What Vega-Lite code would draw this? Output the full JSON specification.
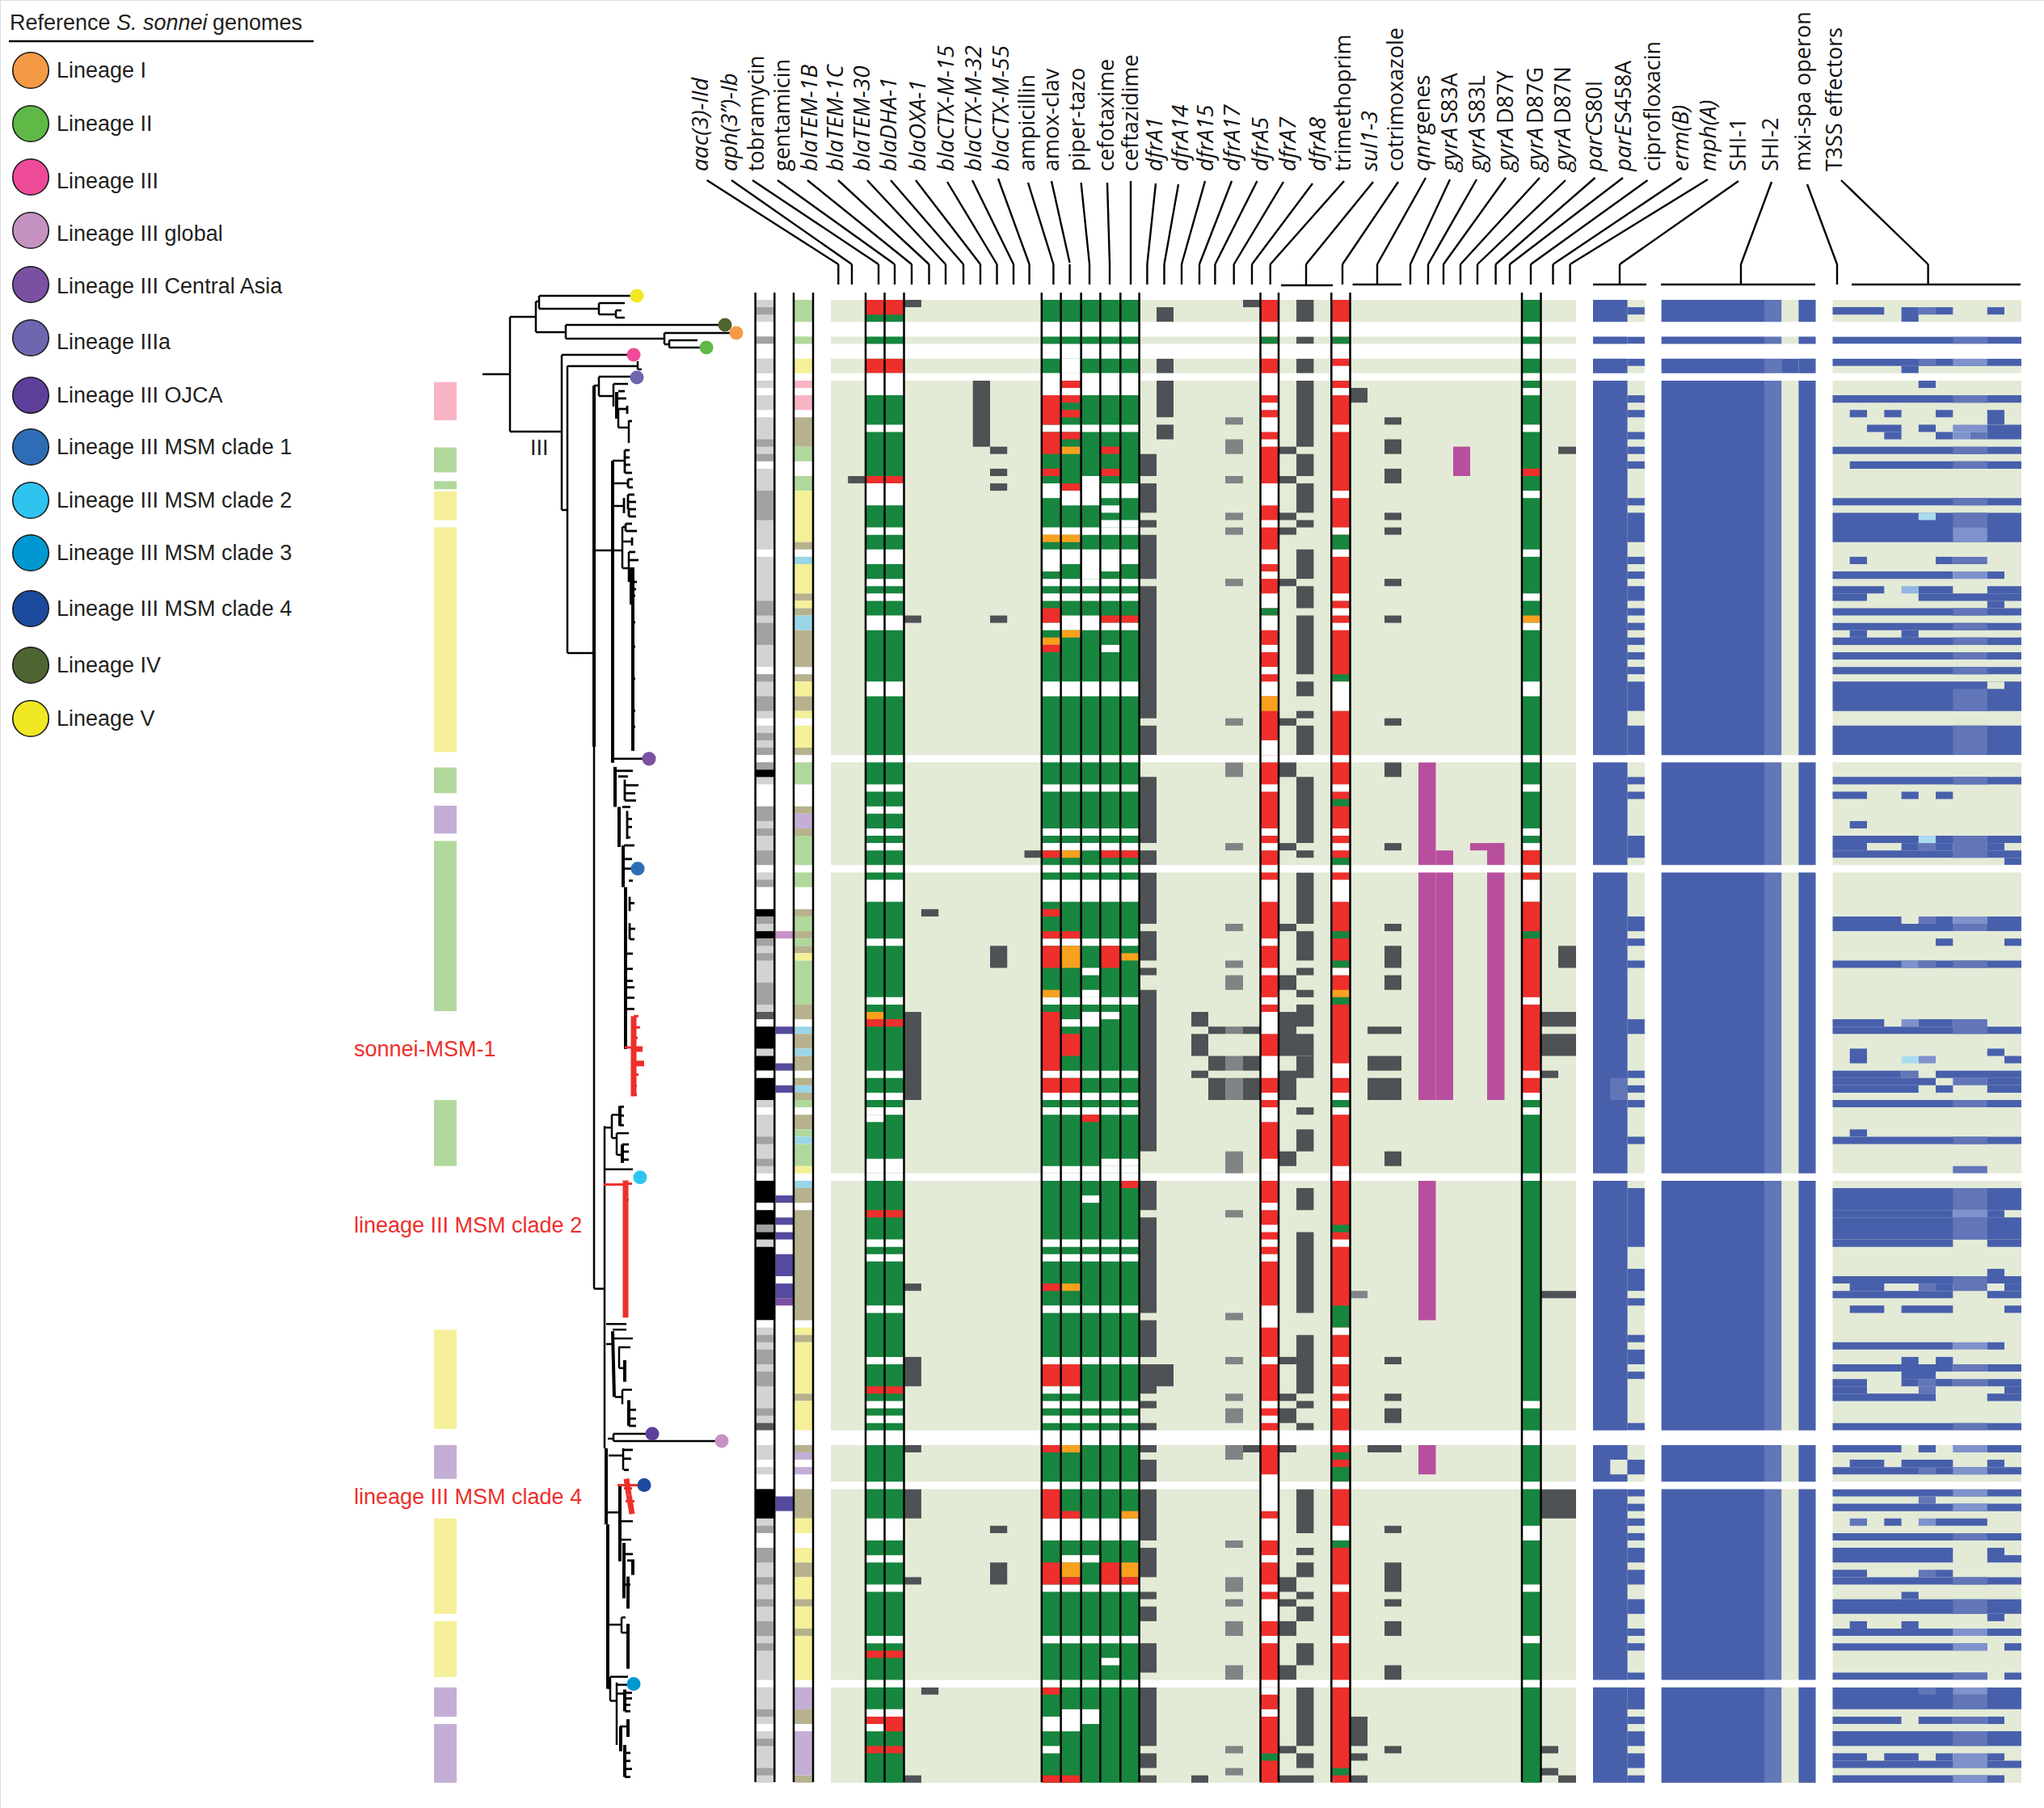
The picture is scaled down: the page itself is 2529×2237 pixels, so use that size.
{"$schema":"https://vega.github.io/schema/vega-lite/v6.json","width":2529,"height":2237,"padding":0,"autosize":{"type":"none"},"background":"#ffffff",
"datasets":{
"cells":[
{"c":0,"d":42,"a":0,"b":202,"s":"BG"},{"c":43,"d":46,"a":0,"b":202,"s":"BG"},{"c":47,"d":56,"a":0,"b":202,"s":"BG"},{"c":57,"d":68,"a":0,"b":202,"s":"BG"},
{"c":-8,"d":-7,"a":11.2,"b":16.4,"s":"sp"},{"c":-8,"d":-7,"a":20.1,"b":23.5,"s":"sg"},{"c":-8,"d":-7,"a":24.7,"b":25.8,"s":"sg"},{"c":-8,"d":-7,"a":26.1,"b":30,"s":"sy"},{"c":-8,"d":-7,"a":31,"b":61.6,"s":"sy"},{"c":-8,"d":-7,"a":63.7,"b":67.2,"s":"sg"},{"c":-8,"d":-7,"a":68.9,"b":72.7,"s":"sv"},{"c":-8,"d":-7,"a":73.7,"b":96.9,"s":"sg"},{"c":-8,"d":-7,"a":109,"b":118,"s":"sg"},{"c":-8,"d":-7,"a":140.3,"b":153.8,"s":"sy"},{"c":-8,"d":-7,"a":156,"b":160.6,"s":"sv"},{"c":-8,"d":-7,"a":166,"b":179,"s":"sy"},{"c":-8,"d":-7,"a":180,"b":187.6,"s":"sy"},{"c":-8,"d":-7,"a":189,"b":193,"s":"sv"},{"c":-8,"d":-7,"a":194,"b":202,"s":"sv"},
{"c":-6,"d":-5,"a":0,"b":202,"s":"g1"},
{"c":-6,"d":-5,"a":1,"b":2,"s":"g2"},{"c":-6,"d":-5,"a":3,"b":5,"s":"N"},{"c":-6,"d":-5,"a":5,"b":6,"s":"g2"},{"c":-6,"d":-5,"a":6,"b":8,"s":"N"},{"c":-6,"d":-5,"a":10,"b":11,"s":"N"},{"c":-6,"d":-5,"a":12,"b":13,"s":"N"},{"c":-6,"d":-5,"a":15,"b":16,"s":"N"},{"c":-6,"d":-5,"a":19,"b":20,"s":"g2"},{"c":-6,"d":-5,"a":21,"b":22,"s":"g2"},{"c":-6,"d":-5,"a":22,"b":23,"s":"N"},{"c":-6,"d":-5,"a":26,"b":30,"s":"g2"},{"c":-6,"d":-5,"a":34,"b":35,"s":"N"},{"c":-6,"d":-5,"a":41,"b":43,"s":"g2"},{"c":-6,"d":-5,"a":44,"b":47,"s":"g2"},{"c":-6,"d":-5,"a":50,"b":51,"s":"N"},{"c":-6,"d":-5,"a":51,"b":52,"s":"g2"},{"c":-6,"d":-5,"a":54,"b":56,"s":"g2"},{"c":-6,"d":-5,"a":57,"b":58,"s":"N"},{"c":-6,"d":-5,"a":59,"b":60,"s":"g2"},{"c":-6,"d":-5,"a":61,"b":62,"s":"g2"},{"c":-6,"d":-5,"a":62,"b":63,"s":"N"},{"c":-6,"d":-5,"a":63,"b":64,"s":"g2"},{"c":-6,"d":-5,"a":64,"b":65,"s":"K"},{"c":-6,"d":-5,"a":66,"b":69,"s":"N"},{"c":-6,"d":-5,"a":69,"b":71,"s":"g2"},{"c":-6,"d":-5,"a":72,"b":73,"s":"g2"},{"c":-6,"d":-5,"a":75,"b":77,"s":"g2"},{"c":-6,"d":-5,"a":77,"b":78,"s":"N"},{"c":-6,"d":-5,"a":79,"b":80,"s":"g2"},{"c":-6,"d":-5,"a":80,"b":83,"s":"N"},{"c":-6,"d":-5,"a":83,"b":84,"s":"K"},{"c":-6,"d":-5,"a":84,"b":85,"s":"g2"},{"c":-6,"d":-5,"a":86,"b":87,"s":"K"},{"c":-6,"d":-5,"a":87,"b":88,"s":"g2"},{"c":-6,"d":-5,"a":89,"b":90,"s":"g2"},{"c":-6,"d":-5,"a":93,"b":96,"s":"g2"},{"c":-6,"d":-5,"a":97,"b":98,"s":"g3"},{"c":-6,"d":-5,"a":98,"b":99,"s":"N"},{"c":-6,"d":-5,"a":99,"b":102,"s":"K"},{"c":-6,"d":-5,"a":103,"b":105,"s":"K"},{"c":-6,"d":-5,"a":105,"b":106,"s":"N"},{"c":-6,"d":-5,"a":106,"b":109,"s":"K"},{"c":-6,"d":-5,"a":110,"b":111,"s":"N"},{"c":-6,"d":-5,"a":114,"b":115,"s":"g2"},{"c":-6,"d":-5,"a":117,"b":118,"s":"g2"},{"c":-6,"d":-5,"a":119,"b":120,"s":"N"},{"c":-6,"d":-5,"a":120,"b":123,"s":"K"},{"c":-6,"d":-5,"a":123,"b":124,"s":"N"},{"c":-6,"d":-5,"a":124,"b":126,"s":"K"},{"c":-6,"d":-5,"a":126,"b":127,"s":"g2"},{"c":-6,"d":-5,"a":127,"b":128,"s":"K"},{"c":-6,"d":-5,"a":129,"b":139,"s":"K"},{"c":-6,"d":-5,"a":139,"b":140,"s":"N"},{"c":-6,"d":-5,"a":141,"b":142,"s":"g2"},{"c":-6,"d":-5,"a":143,"b":145,"s":"g2"},{"c":-6,"d":-5,"a":146,"b":148,"s":"g2"},{"c":-6,"d":-5,"a":151,"b":152,"s":"g2"},{"c":-6,"d":-5,"a":153,"b":154,"s":"g3"},{"c":-6,"d":-5,"a":154,"b":156,"s":"N"},{"c":-6,"d":-5,"a":158,"b":159,"s":"N"},{"c":-6,"d":-5,"a":160,"b":162,"s":"N"},{"c":-6,"d":-5,"a":162,"b":166,"s":"K"},{"c":-6,"d":-5,"a":167,"b":168,"s":"g2"},{"c":-6,"d":-5,"a":168,"b":170,"s":"N"},{"c":-6,"d":-5,"a":170,"b":172,"s":"g2"},{"c":-6,"d":-5,"a":174,"b":175,"s":"g2"},{"c":-6,"d":-5,"a":177,"b":178,"s":"g2"},{"c":-6,"d":-5,"a":180,"b":182,"s":"g2"},{"c":-6,"d":-5,"a":183,"b":184,"s":"g2"},{"c":-6,"d":-5,"a":188,"b":189,"s":"N"},{"c":-6,"d":-5,"a":192,"b":193,"s":"g2"},{"c":-6,"d":-5,"a":194,"b":195,"s":"N"},{"c":-6,"d":-5,"a":196,"b":197,"s":"g2"},{"c":-6,"d":-5,"a":200,"b":201,"s":"g2"},
{"c":-4,"d":-3,"a":86,"b":87,"s":"lil"},{"c":-4,"d":-3,"a":99,"b":100,"s":"pu"},{"c":-4,"d":-3,"a":104,"b":105,"s":"pu"},{"c":-4,"d":-3,"a":107,"b":108,"s":"pu"},{"c":-4,"d":-3,"a":122,"b":123,"s":"pu"},{"c":-4,"d":-3,"a":125,"b":126,"s":"pu"},{"c":-4,"d":-3,"a":127,"b":128,"s":"pu"},{"c":-4,"d":-3,"a":130,"b":133,"s":"pu"},{"c":-4,"d":-3,"a":134,"b":136,"s":"pu"},{"c":-4,"d":-3,"a":136,"b":137,"s":"pv"},{"c":-4,"d":-3,"a":163,"b":165,"s":"pu"},
{"c":-2,"d":-1,"a":0,"b":3,"s":"sg"},{"c":-2,"d":-1,"a":5,"b":6,"s":"sg"},{"c":-2,"d":-1,"a":8,"b":10,"s":"sy"},{"c":-2,"d":-1,"a":11,"b":12,"s":"sp"},{"c":-2,"d":-1,"a":13,"b":15,"s":"sp"},{"c":-2,"d":-1,"a":16,"b":20,"s":"st"},{"c":-2,"d":-1,"a":20,"b":22,"s":"sg"},{"c":-2,"d":-1,"a":24,"b":26,"s":"sg"},{"c":-2,"d":-1,"a":26,"b":33,"s":"sy"},{"c":-2,"d":-1,"a":33,"b":34,"s":"st"},{"c":-2,"d":-1,"a":35,"b":36,"s":"sb"},{"c":-2,"d":-1,"a":36,"b":40,"s":"sy"},{"c":-2,"d":-1,"a":40,"b":41,"s":"st"},{"c":-2,"d":-1,"a":41,"b":42,"s":"sy"},{"c":-2,"d":-1,"a":42,"b":43,"s":"st"},{"c":-2,"d":-1,"a":43,"b":45,"s":"sb"},{"c":-2,"d":-1,"a":45,"b":50,"s":"st"},{"c":-2,"d":-1,"a":51,"b":52,"s":"st"},{"c":-2,"d":-1,"a":52,"b":54,"s":"sy"},{"c":-2,"d":-1,"a":54,"b":56,"s":"st"},{"c":-2,"d":-1,"a":56,"b":57,"s":"sy"},{"c":-2,"d":-1,"a":58,"b":61,"s":"sy"},{"c":-2,"d":-1,"a":61,"b":62,"s":"st"},{"c":-2,"d":-1,"a":63,"b":66,"s":"sg"},{"c":-2,"d":-1,"a":69,"b":70,"s":"st"},{"c":-2,"d":-1,"a":70,"b":72,"s":"sv"},{"c":-2,"d":-1,"a":72,"b":73,"s":"st"},{"c":-2,"d":-1,"a":73,"b":77,"s":"sg"},{"c":-2,"d":-1,"a":78,"b":80,"s":"sg"},{"c":-2,"d":-1,"a":83,"b":84,"s":"st"},{"c":-2,"d":-1,"a":84,"b":86,"s":"sg"},{"c":-2,"d":-1,"a":86,"b":87,"s":"st"},{"c":-2,"d":-1,"a":87,"b":88,"s":"sg"},{"c":-2,"d":-1,"a":88,"b":89,"s":"st"},{"c":-2,"d":-1,"a":89,"b":90,"s":"sy"},{"c":-2,"d":-1,"a":90,"b":96,"s":"sg"},{"c":-2,"d":-1,"a":96,"b":98,"s":"st"},{"c":-2,"d":-1,"a":99,"b":100,"s":"sb"},{"c":-2,"d":-1,"a":100,"b":102,"s":"st"},{"c":-2,"d":-1,"a":102,"b":103,"s":"sb"},{"c":-2,"d":-1,"a":103,"b":105,"s":"st"},{"c":-2,"d":-1,"a":106,"b":107,"s":"st"},{"c":-2,"d":-1,"a":107,"b":108,"s":"sb"},{"c":-2,"d":-1,"a":108,"b":109,"s":"st"},{"c":-2,"d":-1,"a":109,"b":110,"s":"sg"},{"c":-2,"d":-1,"a":111,"b":113,"s":"st"},{"c":-2,"d":-1,"a":113,"b":114,"s":"sg"},{"c":-2,"d":-1,"a":114,"b":115,"s":"sb"},{"c":-2,"d":-1,"a":115,"b":118,"s":"sg"},{"c":-2,"d":-1,"a":118,"b":119,"s":"sy"},{"c":-2,"d":-1,"a":120,"b":121,"s":"sb"},{"c":-2,"d":-1,"a":121,"b":123,"s":"st"},{"c":-2,"d":-1,"a":124,"b":139,"s":"st"},{"c":-2,"d":-1,"a":140,"b":141,"s":"sy"},{"c":-2,"d":-1,"a":141,"b":142,"s":"st"},{"c":-2,"d":-1,"a":142,"b":149,"s":"sy"},{"c":-2,"d":-1,"a":149,"b":150,"s":"st"},{"c":-2,"d":-1,"a":150,"b":154,"s":"sy"},{"c":-2,"d":-1,"a":156,"b":157,"s":"st"},{"c":-2,"d":-1,"a":157,"b":158,"s":"sv"},{"c":-2,"d":-1,"a":159,"b":160,"s":"sv"},{"c":-2,"d":-1,"a":162,"b":166,"s":"st"},{"c":-2,"d":-1,"a":166,"b":168,"s":"sy"},{"c":-2,"d":-1,"a":170,"b":172,"s":"sy"},{"c":-2,"d":-1,"a":172,"b":174,"s":"st"},{"c":-2,"d":-1,"a":174,"b":177,"s":"sy"},{"c":-2,"d":-1,"a":177,"b":178,"s":"st"},{"c":-2,"d":-1,"a":178,"b":181,"s":"sy"},{"c":-2,"d":-1,"a":181,"b":182,"s":"st"},{"c":-2,"d":-1,"a":182,"b":188,"s":"sy"},{"c":-2,"d":-1,"a":189,"b":192,"s":"sv"},{"c":-2,"d":-1,"a":192,"b":194,"s":"st"},{"c":-2,"d":-1,"a":195,"b":201,"s":"sv"},{"c":-2,"d":-1,"a":201,"b":202,"s":"st"},
{"c":2,"d":4,"a":0,"b":202,"s":"S"},{"c":12,"d":17,"a":0,"b":202,"s":"S"},{"c":39,"d":40,"a":0,"b":202,"s":"S"},{"c":24,"d":25,"a":0,"b":202,"s":"R"},{"c":28,"d":29,"a":0,"b":202,"s":"R"},
{"c":2,"d":4,"a":0,"b":2,"s":"R"},{"c":2,"d":4,"a":8,"b":10,"s":"R"},{"c":2,"d":4,"a":10,"b":13,"s":"N"},{"c":2,"d":4,"a":17,"b":18,"s":"N"},{"c":2,"d":4,"a":24,"b":25,"s":"R"},{"c":2,"d":4,"a":25,"b":28,"s":"N"},{"c":2,"d":4,"a":31,"b":32,"s":"N"},{"c":2,"d":4,"a":34,"b":36,"s":"N"},{"c":2,"d":4,"a":38,"b":39,"s":"N"},{"c":2,"d":4,"a":40,"b":41,"s":"N"},{"c":2,"d":4,"a":43,"b":45,"s":"N"},{"c":2,"d":4,"a":52,"b":54,"s":"N"},{"c":2,"d":4,"a":66,"b":67,"s":"N"},{"c":2,"d":4,"a":69,"b":70,"s":"N"},{"c":2,"d":4,"a":72,"b":73,"s":"N"},{"c":2,"d":4,"a":74,"b":75,"s":"N"},{"c":2,"d":4,"a":79,"b":82,"s":"N"},{"c":2,"d":4,"a":87,"b":88,"s":"N"},{"c":2,"d":4,"a":95,"b":96,"s":"N"},{"c":2,"d":3,"a":97,"b":98,"s":"I"},{"c":2,"d":4,"a":98,"b":99,"s":"R"},{"c":2,"d":4,"a":105,"b":106,"s":"N"},{"c":2,"d":4,"a":108,"b":109,"s":"N"},{"c":2,"d":4,"a":110,"b":111,"s":"N"},{"c":2,"d":3,"a":111,"b":112,"s":"N"},{"c":2,"d":4,"a":117,"b":119,"s":"N"},{"c":2,"d":4,"a":124,"b":125,"s":"R"},{"c":2,"d":4,"a":128,"b":129,"s":"N"},{"c":2,"d":4,"a":130,"b":131,"s":"N"},{"c":2,"d":4,"a":137,"b":138,"s":"N"},{"c":2,"d":4,"a":144,"b":145,"s":"N"},{"c":2,"d":4,"a":148,"b":149,"s":"R"},{"c":2,"d":4,"a":150,"b":151,"s":"N"},{"c":2,"d":4,"a":152,"b":153,"s":"N"},{"c":2,"d":4,"a":166,"b":169,"s":"N"},{"c":2,"d":4,"a":171,"b":172,"s":"N"},{"c":2,"d":4,"a":175,"b":176,"s":"N"},{"c":2,"d":4,"a":182,"b":183,"s":"N"},{"c":2,"d":4,"a":184,"b":185,"s":"R"},{"c":2,"d":4,"a":192,"b":193,"s":"N"},{"c":2,"d":3,"a":193,"b":194,"s":"R"},{"c":2,"d":3,"a":194,"b":195,"s":"N"},{"c":3,"d":4,"a":193,"b":195,"s":"R"},{"c":2,"d":4,"a":197,"b":198,"s":"R"},
{"c":12,"d":17,"a":10,"b":13,"s":"N"},{"c":12,"d":17,"a":17,"b":18,"s":"N"},{"c":12,"d":17,"a":31,"b":32,"s":"N"},{"c":12,"d":17,"a":34,"b":36,"s":"N"},{"c":12,"d":17,"a":38,"b":39,"s":"N"},{"c":12,"d":17,"a":40,"b":41,"s":"N"},{"c":12,"d":17,"a":52,"b":54,"s":"N"},{"c":12,"d":17,"a":66,"b":67,"s":"N"},{"c":12,"d":17,"a":72,"b":73,"s":"N"},{"c":12,"d":17,"a":74,"b":75,"s":"N"},{"c":12,"d":17,"a":79,"b":82,"s":"N"},{"c":12,"d":17,"a":87,"b":88,"s":"N"},{"c":12,"d":17,"a":95,"b":96,"s":"N"},{"c":12,"d":17,"a":105,"b":106,"s":"N"},{"c":12,"d":17,"a":108,"b":109,"s":"N"},{"c":12,"d":17,"a":110,"b":111,"s":"N"},{"c":12,"d":17,"a":118,"b":119,"s":"N"},{"c":12,"d":17,"a":128,"b":129,"s":"N"},{"c":12,"d":17,"a":130,"b":131,"s":"N"},{"c":12,"d":17,"a":137,"b":138,"s":"N"},{"c":12,"d":17,"a":144,"b":145,"s":"N"},{"c":12,"d":17,"a":150,"b":151,"s":"N"},{"c":12,"d":17,"a":152,"b":153,"s":"N"},{"c":12,"d":17,"a":166,"b":169,"s":"N"},{"c":12,"d":17,"a":175,"b":176,"s":"N"},{"c":12,"d":17,"a":182,"b":183,"s":"N"},
{"c":12,"d":13,"a":13,"b":17,"s":"R"},{"c":12,"d":13,"a":18,"b":21,"s":"R"},{"c":12,"d":13,"a":23,"b":24,"s":"R"},{"c":12,"d":13,"a":25,"b":27,"s":"N"},{"c":12,"d":13,"a":32,"b":33,"s":"I"},{"c":12,"d":13,"a":36,"b":37,"s":"N"},{"c":12,"d":13,"a":42,"b":44,"s":"R"},{"c":12,"d":13,"a":44,"b":45,"s":"N"},{"c":12,"d":13,"a":46,"b":47,"s":"I"},{"c":12,"d":13,"a":47,"b":48,"s":"R"},{"c":12,"d":13,"a":75,"b":76,"s":"R"},{"c":12,"d":13,"a":83,"b":84,"s":"R"},{"c":12,"d":13,"a":86,"b":87,"s":"R"},{"c":12,"d":13,"a":88,"b":91,"s":"R"},{"c":12,"d":13,"a":94,"b":95,"s":"I"},{"c":12,"d":13,"a":97,"b":105,"s":"R"},{"c":12,"d":13,"a":106,"b":108,"s":"R"},{"c":12,"d":13,"a":134,"b":135,"s":"R"},{"c":12,"d":13,"a":145,"b":148,"s":"R"},{"c":12,"d":13,"a":148,"b":149,"s":"N"},{"c":12,"d":13,"a":156,"b":157,"s":"R"},{"c":12,"d":13,"a":162,"b":166,"s":"R"},{"c":12,"d":13,"a":172,"b":175,"s":"R"},{"c":12,"d":13,"a":189,"b":190,"s":"R"},{"c":12,"d":13,"a":193,"b":195,"s":"N"},{"c":12,"d":13,"a":197,"b":198,"s":"N"},{"c":12,"d":13,"a":201,"b":202,"s":"R"},
{"c":13,"d":14,"a":8,"b":10,"s":"N"},{"c":13,"d":14,"a":11,"b":12,"s":"R"},{"c":13,"d":14,"a":13,"b":14,"s":"R"},{"c":13,"d":14,"a":15,"b":16,"s":"R"},{"c":13,"d":14,"a":18,"b":19,"s":"R"},{"c":13,"d":14,"a":20,"b":21,"s":"I"},{"c":13,"d":14,"a":25,"b":26,"s":"R"},{"c":13,"d":14,"a":26,"b":28,"s":"N"},{"c":13,"d":14,"a":32,"b":33,"s":"I"},{"c":13,"d":14,"a":43,"b":45,"s":"N"},{"c":13,"d":14,"a":45,"b":46,"s":"I"},{"c":13,"d":14,"a":75,"b":76,"s":"I"},{"c":13,"d":14,"a":86,"b":87,"s":"R"},{"c":13,"d":14,"a":88,"b":91,"s":"I"},{"c":13,"d":14,"a":98,"b":99,"s":"N"},{"c":13,"d":14,"a":100,"b":103,"s":"R"},{"c":13,"d":14,"a":106,"b":108,"s":"R"},{"c":13,"d":14,"a":134,"b":135,"s":"I"},{"c":13,"d":14,"a":145,"b":148,"s":"R"},{"c":13,"d":14,"a":148,"b":149,"s":"N"},{"c":13,"d":14,"a":156,"b":157,"s":"I"},{"c":13,"d":14,"a":165,"b":166,"s":"R"},{"c":13,"d":14,"a":171,"b":172,"s":"N"},{"c":13,"d":14,"a":172,"b":174,"s":"I"},{"c":13,"d":14,"a":174,"b":175,"s":"R"},{"c":13,"d":14,"a":192,"b":195,"s":"N"},{"c":13,"d":14,"a":201,"b":202,"s":"R"},
{"c":14,"d":15,"a":24,"b":28,"s":"N"},{"c":14,"d":15,"a":36,"b":38,"s":"N"},{"c":14,"d":15,"a":43,"b":45,"s":"N"},{"c":14,"d":15,"a":91,"b":92,"s":"N"},{"c":14,"d":15,"a":94,"b":95,"s":"N"},{"c":14,"d":15,"a":97,"b":99,"s":"N"},{"c":14,"d":15,"a":111,"b":112,"s":"R"},{"c":14,"d":15,"a":122,"b":123,"s":"N"},{"c":14,"d":15,"a":171,"b":172,"s":"N"},{"c":14,"d":15,"a":192,"b":194,"s":"N"},
{"c":15,"d":16,"a":20,"b":21,"s":"R"},{"c":15,"d":16,"a":23,"b":24,"s":"R"},{"c":15,"d":16,"a":25,"b":27,"s":"N"},{"c":15,"d":16,"a":28,"b":29,"s":"N"},{"c":15,"d":16,"a":30,"b":31,"s":"N"},{"c":15,"d":16,"a":36,"b":37,"s":"N"},{"c":15,"d":16,"a":43,"b":44,"s":"R"},{"c":15,"d":16,"a":44,"b":45,"s":"N"},{"c":15,"d":16,"a":47,"b":48,"s":"N"},{"c":15,"d":16,"a":75,"b":76,"s":"R"},{"c":15,"d":16,"a":88,"b":91,"s":"R"},{"c":15,"d":16,"a":97,"b":98,"s":"N"},{"c":15,"d":16,"a":117,"b":118,"s":"N"},{"c":15,"d":16,"a":172,"b":175,"s":"R"},{"c":15,"d":16,"a":185,"b":186,"s":"N"},
{"c":16,"d":17,"a":25,"b":27,"s":"N"},{"c":16,"d":17,"a":30,"b":31,"s":"N"},{"c":16,"d":17,"a":43,"b":44,"s":"R"},{"c":16,"d":17,"a":44,"b":45,"s":"N"},{"c":16,"d":17,"a":75,"b":76,"s":"R"},{"c":16,"d":17,"a":89,"b":90,"s":"I"},{"c":16,"d":17,"a":117,"b":118,"s":"N"},{"c":16,"d":17,"a":120,"b":121,"s":"R"},{"c":16,"d":17,"a":165,"b":166,"s":"I"},{"c":16,"d":17,"a":172,"b":174,"s":"I"},{"c":16,"d":17,"a":174,"b":175,"s":"R"},
{"c":24,"d":25,"a":5,"b":6,"s":"S"},{"c":24,"d":25,"a":10,"b":13,"s":"N"},{"c":24,"d":25,"a":14,"b":15,"s":"N"},{"c":24,"d":25,"a":16,"b":18,"s":"N"},{"c":24,"d":25,"a":19,"b":20,"s":"N"},{"c":24,"d":25,"a":25,"b":28,"s":"N"},{"c":24,"d":25,"a":30,"b":31,"s":"N"},{"c":24,"d":25,"a":34,"b":36,"s":"N"},{"c":24,"d":25,"a":37,"b":38,"s":"N"},{"c":24,"d":25,"a":40,"b":42,"s":"N"},{"c":24,"d":25,"a":42,"b":43,"s":"S"},{"c":24,"d":25,"a":43,"b":45,"s":"N"},{"c":24,"d":25,"a":47,"b":48,"s":"N"},{"c":24,"d":25,"a":50,"b":51,"s":"N"},{"c":24,"d":25,"a":52,"b":54,"s":"N"},{"c":24,"d":25,"a":54,"b":56,"s":"I"},{"c":24,"d":25,"a":60,"b":62,"s":"N"},{"c":24,"d":25,"a":66,"b":67,"s":"N"},{"c":24,"d":25,"a":72,"b":73,"s":"N"},{"c":24,"d":25,"a":74,"b":75,"s":"N"},{"c":24,"d":25,"a":79,"b":82,"s":"N"},{"c":24,"d":25,"a":87,"b":88,"s":"N"},{"c":24,"d":25,"a":91,"b":92,"s":"N"},{"c":24,"d":25,"a":95,"b":96,"s":"N"},{"c":24,"d":25,"a":97,"b":100,"s":"N"},{"c":24,"d":25,"a":103,"b":106,"s":"N"},{"c":24,"d":25,"a":108,"b":109,"s":"N"},{"c":24,"d":25,"a":110,"b":112,"s":"N"},{"c":24,"d":25,"a":117,"b":119,"s":"N"},{"c":24,"d":25,"a":123,"b":124,"s":"N"},{"c":24,"d":25,"a":126,"b":127,"s":"N"},{"c":24,"d":25,"a":128,"b":129,"s":"N"},{"c":24,"d":25,"a":130,"b":131,"s":"N"},{"c":24,"d":25,"a":137,"b":140,"s":"N"},{"c":24,"d":25,"a":144,"b":145,"s":"N"},{"c":24,"d":25,"a":150,"b":151,"s":"N"},{"c":24,"d":25,"a":152,"b":153,"s":"N"},{"c":24,"d":25,"a":160,"b":165,"s":"N"},{"c":24,"d":25,"a":166,"b":169,"s":"N"},{"c":24,"d":25,"a":171,"b":172,"s":"N"},{"c":24,"d":25,"a":175,"b":176,"s":"N"},{"c":24,"d":25,"a":177,"b":180,"s":"N"},{"c":24,"d":25,"a":182,"b":183,"s":"N"},{"c":24,"d":25,"a":189,"b":190,"s":"N"},{"c":24,"d":25,"a":192,"b":193,"s":"N"},{"c":24,"d":25,"a":198,"b":199,"s":"S"},
{"c":28,"d":29,"a":5,"b":6,"s":"S"},{"c":28,"d":29,"a":9,"b":11,"s":"N"},{"c":28,"d":29,"a":12,"b":13,"s":"N"},{"c":28,"d":29,"a":17,"b":18,"s":"N"},{"c":28,"d":29,"a":26,"b":27,"s":"N"},{"c":28,"d":29,"a":31,"b":32,"s":"N"},{"c":28,"d":29,"a":32,"b":34,"s":"S"},{"c":28,"d":29,"a":34,"b":35,"s":"N"},{"c":28,"d":29,"a":40,"b":41,"s":"N"},{"c":28,"d":29,"a":42,"b":43,"s":"N"},{"c":28,"d":29,"a":44,"b":45,"s":"N"},{"c":28,"d":29,"a":51,"b":52,"s":"S"},{"c":28,"d":29,"a":52,"b":56,"s":"N"},{"c":28,"d":29,"a":66,"b":67,"s":"N"},{"c":28,"d":29,"a":68,"b":69,"s":"S"},{"c":28,"d":29,"a":72,"b":73,"s":"N"},{"c":28,"d":29,"a":74,"b":75,"s":"N"},{"c":28,"d":29,"a":76,"b":77,"s":"S"},{"c":28,"d":29,"a":79,"b":82,"s":"N"},{"c":28,"d":29,"a":86,"b":87,"s":"S"},{"c":28,"d":29,"a":90,"b":91,"s":"S"},{"c":28,"d":29,"a":91,"b":92,"s":"N"},{"c":28,"d":29,"a":94,"b":95,"s":"I"},{"c":28,"d":29,"a":95,"b":96,"s":"S"},{"c":28,"d":29,"a":104,"b":106,"s":"N"},{"c":28,"d":29,"a":108,"b":109,"s":"N"},{"c":28,"d":29,"a":109,"b":110,"s":"S"},{"c":28,"d":29,"a":110,"b":111,"s":"N"},{"c":28,"d":29,"a":118,"b":119,"s":"N"},{"c":28,"d":29,"a":126,"b":127,"s":"S"},{"c":28,"d":29,"a":128,"b":129,"s":"N"},{"c":28,"d":29,"a":137,"b":140,"s":"S"},{"c":28,"d":29,"a":140,"b":141,"s":"N"},{"c":28,"d":29,"a":144,"b":145,"s":"N"},{"c":28,"d":29,"a":148,"b":149,"s":"N"},{"c":28,"d":29,"a":150,"b":151,"s":"N"},{"c":28,"d":29,"a":157,"b":158,"s":"S"},{"c":28,"d":29,"a":159,"b":161,"s":"S"},{"c":28,"d":29,"a":167,"b":169,"s":"N"},{"c":28,"d":29,"a":169,"b":170,"s":"S"},{"c":28,"d":29,"a":175,"b":176,"s":"N"},{"c":28,"d":29,"a":182,"b":183,"s":"N"},{"c":28,"d":29,"a":200,"b":201,"s":"S"},
{"c":39,"d":40,"a":10,"b":11,"s":"N"},{"c":39,"d":40,"a":12,"b":13,"s":"N"},{"c":39,"d":40,"a":17,"b":18,"s":"N"},{"c":39,"d":40,"a":23,"b":24,"s":"R"},{"c":39,"d":40,"a":26,"b":27,"s":"N"},{"c":39,"d":40,"a":34,"b":35,"s":"N"},{"c":39,"d":40,"a":40,"b":41,"s":"N"},{"c":39,"d":40,"a":43,"b":44,"s":"I"},{"c":39,"d":40,"a":44,"b":45,"s":"N"},{"c":39,"d":40,"a":52,"b":54,"s":"N"},{"c":39,"d":40,"a":66,"b":67,"s":"N"},{"c":39,"d":40,"a":72,"b":73,"s":"N"},{"c":39,"d":40,"a":74,"b":75,"s":"N"},{"c":39,"d":40,"a":75,"b":77,"s":"R"},{"c":39,"d":40,"a":78,"b":79,"s":"R"},{"c":39,"d":40,"a":79,"b":82,"s":"N"},{"c":39,"d":40,"a":82,"b":86,"s":"R"},{"c":39,"d":40,"a":87,"b":109,"s":"R"},{"c":39,"d":40,"a":95,"b":96,"s":"N"},{"c":39,"d":40,"a":105,"b":106,"s":"N"},{"c":39,"d":40,"a":108,"b":109,"s":"N"},{"c":39,"d":40,"a":110,"b":111,"s":"N"},{"c":39,"d":40,"a":150,"b":151,"s":"N"},{"c":39,"d":40,"a":167,"b":169,"s":"N"},{"c":39,"d":40,"a":175,"b":176,"s":"N"},{"c":39,"d":40,"a":182,"b":183,"s":"N"},
{"c":1,"d":2,"a":24,"b":25,"s":"D"},
{"c":4,"d":5,"a":0,"b":1,"s":"D"},{"c":4,"d":5,"a":43,"b":44,"s":"D"},{"c":4,"d":5,"a":97,"b":109,"s":"D"},{"c":4,"d":5,"a":134,"b":135,"s":"D"},{"c":4,"d":5,"a":144,"b":148,"s":"D"},{"c":4,"d":5,"a":156,"b":157,"s":"D"},{"c":4,"d":5,"a":162,"b":166,"s":"D"},{"c":4,"d":5,"a":174,"b":175,"s":"D"},{"c":4,"d":5,"a":201,"b":202,"s":"D"},
{"c":5,"d":6,"a":83,"b":84,"s":"D"},{"c":5,"d":6,"a":189,"b":190,"s":"D"},
{"c":8,"d":9,"a":11,"b":20,"s":"D"},
{"c":9,"d":10,"a":20,"b":21,"s":"D"},{"c":9,"d":10,"a":23,"b":24,"s":"D"},{"c":9,"d":10,"a":25,"b":26,"s":"D"},{"c":9,"d":10,"a":43,"b":44,"s":"D"},{"c":9,"d":10,"a":88,"b":91,"s":"D"},{"c":9,"d":10,"a":167,"b":168,"s":"D"},{"c":9,"d":10,"a":172,"b":175,"s":"D"},
{"c":11,"d":12,"a":75,"b":76,"s":"D"},
{"c":17,"d":18,"a":21,"b":24,"s":"D"},{"c":17,"d":18,"a":25,"b":29,"s":"D"},{"c":17,"d":18,"a":30,"b":31,"s":"D"},{"c":17,"d":18,"a":32,"b":38,"s":"D"},{"c":17,"d":18,"a":39,"b":57,"s":"D"},{"c":17,"d":18,"a":58,"b":62,"s":"D"},{"c":17,"d":18,"a":65,"b":74,"s":"D"},{"c":17,"d":18,"a":75,"b":77,"s":"D"},{"c":17,"d":18,"a":78,"b":85,"s":"D"},{"c":17,"d":18,"a":86,"b":90,"s":"D"},{"c":17,"d":18,"a":91,"b":92,"s":"D"},{"c":17,"d":18,"a":94,"b":116,"s":"D"},{"c":17,"d":18,"a":120,"b":124,"s":"D"},{"c":17,"d":18,"a":125,"b":138,"s":"D"},{"c":17,"d":18,"a":139,"b":144,"s":"D"},{"c":17,"d":18,"a":145,"b":149,"s":"D"},{"c":17,"d":18,"a":150,"b":151,"s":"D"},{"c":17,"d":18,"a":153,"b":154,"s":"D"},{"c":17,"d":18,"a":156,"b":157,"s":"D"},{"c":17,"d":18,"a":158,"b":161,"s":"D"},{"c":17,"d":18,"a":162,"b":169,"s":"D"},{"c":17,"d":18,"a":170,"b":174,"s":"D"},{"c":17,"d":18,"a":176,"b":177,"s":"D"},{"c":17,"d":18,"a":178,"b":180,"s":"D"},{"c":17,"d":18,"a":183,"b":187,"s":"D"},{"c":17,"d":18,"a":189,"b":197,"s":"D"},{"c":17,"d":18,"a":198,"b":200,"s":"D"},{"c":17,"d":18,"a":201,"b":202,"s":"D"},
{"c":18,"d":19,"a":1,"b":3,"s":"D"},{"c":18,"d":19,"a":8,"b":10,"s":"D"},{"c":18,"d":19,"a":11,"b":16,"s":"D"},{"c":18,"d":19,"a":17,"b":19,"s":"D"},{"c":18,"d":19,"a":145,"b":148,"s":"D"},
{"c":20,"d":21,"a":97,"b":99,"s":"D"},{"c":20,"d":21,"a":100,"b":103,"s":"D"},{"c":20,"d":21,"a":105,"b":106,"s":"D"},{"c":20,"d":21,"a":201,"b":202,"s":"D"},
{"c":21,"d":22,"a":99,"b":100,"s":"D"},{"c":21,"d":22,"a":103,"b":105,"s":"D"},{"c":21,"d":22,"a":106,"b":109,"s":"D"},
{"c":22,"d":23,"a":16,"b":17,"s":"E"},{"c":22,"d":23,"a":19,"b":21,"s":"E"},{"c":22,"d":23,"a":24,"b":25,"s":"E"},{"c":22,"d":23,"a":29,"b":30,"s":"E"},{"c":22,"d":23,"a":31,"b":32,"s":"E"},{"c":22,"d":23,"a":38,"b":39,"s":"E"},{"c":22,"d":23,"a":57,"b":58,"s":"E"},{"c":22,"d":23,"a":63,"b":65,"s":"E"},{"c":22,"d":23,"a":74,"b":75,"s":"E"},{"c":22,"d":23,"a":85,"b":86,"s":"E"},{"c":22,"d":23,"a":90,"b":91,"s":"E"},{"c":22,"d":23,"a":92,"b":94,"s":"E"},{"c":22,"d":23,"a":99,"b":100,"s":"E"},{"c":22,"d":23,"a":103,"b":105,"s":"E"},{"c":22,"d":23,"a":106,"b":109,"s":"E"},{"c":22,"d":23,"a":116,"b":119,"s":"E"},{"c":22,"d":23,"a":124,"b":125,"s":"E"},{"c":22,"d":23,"a":138,"b":139,"s":"E"},{"c":22,"d":23,"a":144,"b":145,"s":"E"},{"c":22,"d":23,"a":149,"b":150,"s":"E"},{"c":22,"d":23,"a":151,"b":153,"s":"E"},{"c":22,"d":23,"a":156,"b":158,"s":"E"},{"c":22,"d":23,"a":169,"b":170,"s":"E"},{"c":22,"d":23,"a":174,"b":176,"s":"E"},{"c":22,"d":23,"a":177,"b":178,"s":"E"},{"c":22,"d":23,"a":180,"b":182,"s":"E"},{"c":22,"d":23,"a":186,"b":188,"s":"E"},{"c":22,"d":23,"a":197,"b":198,"s":"E"},{"c":22,"d":23,"a":200,"b":201,"s":"E"},
{"c":23,"d":24,"a":0,"b":1,"s":"D"},{"c":23,"d":24,"a":99,"b":100,"s":"D"},{"c":23,"d":24,"a":103,"b":105,"s":"D"},{"c":23,"d":24,"a":106,"b":109,"s":"D"},{"c":23,"d":24,"a":156,"b":157,"s":"D"},
{"c":25,"d":26,"a":20,"b":21,"s":"D"},{"c":25,"d":26,"a":24,"b":25,"s":"D"},{"c":25,"d":26,"a":29,"b":30,"s":"D"},{"c":25,"d":26,"a":31,"b":32,"s":"D"},{"c":25,"d":26,"a":38,"b":39,"s":"D"},{"c":25,"d":26,"a":57,"b":58,"s":"D"},{"c":25,"d":26,"a":63,"b":65,"s":"D"},{"c":25,"d":26,"a":74,"b":75,"s":"D"},{"c":25,"d":26,"a":85,"b":86,"s":"D"},{"c":25,"d":26,"a":92,"b":94,"s":"D"},{"c":25,"d":26,"a":97,"b":103,"s":"D"},{"c":25,"d":26,"a":105,"b":109,"s":"D"},{"c":25,"d":26,"a":116,"b":118,"s":"D"},{"c":25,"d":26,"a":144,"b":145,"s":"D"},{"c":25,"d":26,"a":149,"b":150,"s":"D"},{"c":25,"d":26,"a":151,"b":153,"s":"D"},{"c":25,"d":26,"a":156,"b":157,"s":"D"},{"c":25,"d":26,"a":174,"b":176,"s":"D"},{"c":25,"d":26,"a":177,"b":178,"s":"D"},{"c":25,"d":26,"a":180,"b":182,"s":"D"},{"c":25,"d":26,"a":186,"b":188,"s":"D"},{"c":25,"d":26,"a":197,"b":198,"s":"D"},{"c":25,"d":26,"a":201,"b":202,"s":"D"},
{"c":26,"d":27,"a":0,"b":3,"s":"D"},{"c":26,"d":27,"a":5,"b":6,"s":"D"},{"c":26,"d":27,"a":8,"b":10,"s":"D"},{"c":26,"d":27,"a":11,"b":20,"s":"D"},{"c":26,"d":27,"a":21,"b":24,"s":"D"},{"c":26,"d":27,"a":25,"b":29,"s":"D"},{"c":26,"d":27,"a":30,"b":31,"s":"D"},{"c":26,"d":27,"a":34,"b":38,"s":"D"},{"c":26,"d":27,"a":39,"b":42,"s":"D"},{"c":26,"d":27,"a":43,"b":51,"s":"D"},{"c":26,"d":27,"a":52,"b":54,"s":"D"},{"c":26,"d":27,"a":56,"b":57,"s":"D"},{"c":26,"d":27,"a":58,"b":62,"s":"D"},{"c":26,"d":27,"a":65,"b":74,"s":"D"},{"c":26,"d":27,"a":75,"b":76,"s":"D"},{"c":26,"d":27,"a":78,"b":85,"s":"D"},{"c":26,"d":27,"a":86,"b":90,"s":"D"},{"c":26,"d":27,"a":91,"b":92,"s":"D"},{"c":26,"d":27,"a":94,"b":95,"s":"D"},{"c":26,"d":27,"a":96,"b":99,"s":"D"},{"c":26,"d":27,"a":100,"b":103,"s":"D"},{"c":26,"d":27,"a":103,"b":106,"s":"D"},{"c":26,"d":27,"a":110,"b":111,"s":"D"},{"c":26,"d":27,"a":113,"b":116,"s":"D"},{"c":26,"d":27,"a":121,"b":124,"s":"D"},{"c":26,"d":27,"a":127,"b":138,"s":"D"},{"c":26,"d":27,"a":141,"b":149,"s":"D"},{"c":26,"d":27,"a":150,"b":151,"s":"D"},{"c":26,"d":27,"a":153,"b":154,"s":"D"},{"c":26,"d":27,"a":162,"b":168,"s":"D"},{"c":26,"d":27,"a":170,"b":171,"s":"D"},{"c":26,"d":27,"a":172,"b":174,"s":"D"},{"c":26,"d":27,"a":176,"b":177,"s":"D"},{"c":26,"d":27,"a":178,"b":180,"s":"D"},{"c":26,"d":27,"a":183,"b":186,"s":"D"},{"c":26,"d":27,"a":189,"b":197,"s":"D"},{"c":26,"d":27,"a":198,"b":200,"s":"D"},{"c":26,"d":27,"a":201,"b":202,"s":"D"},
{"c":29,"d":30,"a":12,"b":14,"s":"D"},{"c":29,"d":30,"a":135,"b":136,"s":"E"},{"c":29,"d":30,"a":193,"b":197,"s":"D"},{"c":29,"d":30,"a":198,"b":199,"s":"D"},{"c":29,"d":30,"a":201,"b":202,"s":"D"},
{"c":30,"d":31,"a":99,"b":100,"s":"D"},{"c":30,"d":31,"a":103,"b":105,"s":"D"},{"c":30,"d":31,"a":106,"b":109,"s":"D"},{"c":30,"d":31,"a":156,"b":157,"s":"D"},
{"c":31,"d":32,"a":16,"b":17,"s":"D"},{"c":31,"d":32,"a":19,"b":21,"s":"D"},{"c":31,"d":32,"a":23,"b":25,"s":"D"},{"c":31,"d":32,"a":29,"b":30,"s":"D"},{"c":31,"d":32,"a":31,"b":32,"s":"D"},{"c":31,"d":32,"a":38,"b":39,"s":"D"},{"c":31,"d":32,"a":43,"b":44,"s":"D"},{"c":31,"d":32,"a":57,"b":58,"s":"D"},{"c":31,"d":32,"a":63,"b":65,"s":"D"},{"c":31,"d":32,"a":74,"b":75,"s":"D"},{"c":31,"d":32,"a":85,"b":86,"s":"D"},{"c":31,"d":32,"a":88,"b":91,"s":"D"},{"c":31,"d":32,"a":92,"b":94,"s":"D"},{"c":31,"d":32,"a":99,"b":100,"s":"D"},{"c":31,"d":32,"a":103,"b":105,"s":"D"},{"c":31,"d":32,"a":106,"b":109,"s":"D"},{"c":31,"d":32,"a":116,"b":118,"s":"D"},{"c":31,"d":32,"a":144,"b":145,"s":"D"},{"c":31,"d":32,"a":149,"b":150,"s":"D"},{"c":31,"d":32,"a":151,"b":153,"s":"D"},{"c":31,"d":32,"a":156,"b":157,"s":"D"},{"c":31,"d":32,"a":167,"b":168,"s":"D"},{"c":31,"d":32,"a":172,"b":176,"s":"D"},{"c":31,"d":32,"a":177,"b":178,"s":"D"},{"c":31,"d":32,"a":180,"b":182,"s":"D"},{"c":31,"d":32,"a":186,"b":188,"s":"D"},{"c":31,"d":32,"a":197,"b":198,"s":"D"},
{"c":33,"d":34,"a":63,"b":109,"s":"Q"},{"c":33,"d":34,"a":120,"b":139,"s":"Q"},{"c":33,"d":34,"a":156,"b":160,"s":"Q"},{"c":34,"d":35,"a":75,"b":109,"s":"Q"},{"c":35,"d":36,"a":20,"b":24,"s":"Q"},{"c":36,"d":37,"a":74,"b":75,"s":"Q"},{"c":37,"d":38,"a":74,"b":109,"s":"Q"},
{"c":40,"d":42,"a":97,"b":99,"s":"D"},{"c":40,"d":42,"a":100,"b":103,"s":"D"},{"c":40,"d":41,"a":105,"b":106,"s":"D"},{"c":40,"d":42,"a":135,"b":136,"s":"D"},{"c":40,"d":42,"a":162,"b":166,"s":"D"},{"c":40,"d":41,"a":197,"b":198,"s":"D"},{"c":40,"d":41,"a":200,"b":201,"s":"D"},{"c":41,"d":42,"a":20,"b":21,"s":"D"},{"c":41,"d":42,"a":88,"b":91,"s":"D"},{"c":41,"d":42,"a":201,"b":202,"s":"D"},
{"c":43,"d":45,"a":0,"b":202,"s":"B"},{"c":44,"d":45,"a":158,"b":160,"s":"BG"},{"c":44,"d":45,"a":106,"b":109,"s":"B2"},
{"c":45,"d":46,"a":1,"b":2,"s":"B"},{"c":45,"d":46,"a":5,"b":6,"s":"B"},{"c":45,"d":46,"a":8,"b":9,"s":"B"},{"c":45,"d":46,"a":13,"b":14,"s":"B"},{"c":45,"d":46,"a":15,"b":16,"s":"B"},{"c":45,"d":46,"a":18,"b":19,"s":"B"},{"c":45,"d":46,"a":20,"b":21,"s":"B"},{"c":45,"d":46,"a":22,"b":23,"s":"B"},{"c":45,"d":46,"a":27,"b":28,"s":"B"},{"c":45,"d":46,"a":29,"b":33,"s":"B"},{"c":45,"d":46,"a":35,"b":36,"s":"B"},{"c":45,"d":46,"a":37,"b":38,"s":"B"},{"c":45,"d":46,"a":39,"b":41,"s":"B"},{"c":45,"d":46,"a":42,"b":43,"s":"B"},{"c":45,"d":46,"a":44,"b":45,"s":"B"},{"c":45,"d":46,"a":46,"b":47,"s":"B"},{"c":45,"d":46,"a":48,"b":49,"s":"B"},{"c":45,"d":46,"a":50,"b":51,"s":"B"},{"c":45,"d":46,"a":52,"b":56,"s":"B"},{"c":45,"d":46,"a":58,"b":62,"s":"B"},{"c":45,"d":46,"a":65,"b":66,"s":"B"},{"c":45,"d":46,"a":67,"b":68,"s":"B"},{"c":45,"d":46,"a":73,"b":76,"s":"B"},{"c":45,"d":46,"a":84,"b":86,"s":"B"},{"c":45,"d":46,"a":87,"b":88,"s":"B"},{"c":45,"d":46,"a":90,"b":91,"s":"B"},{"c":45,"d":46,"a":98,"b":100,"s":"B"},{"c":45,"d":46,"a":105,"b":106,"s":"B"},{"c":45,"d":46,"a":107,"b":108,"s":"B"},{"c":45,"d":46,"a":109,"b":110,"s":"B"},{"c":45,"d":46,"a":114,"b":115,"s":"B"},{"c":45,"d":46,"a":121,"b":129,"s":"B"},{"c":45,"d":46,"a":132,"b":135,"s":"B"},{"c":45,"d":46,"a":136,"b":137,"s":"B"},{"c":45,"d":46,"a":141,"b":142,"s":"B"},{"c":45,"d":46,"a":143,"b":145,"s":"B"},{"c":45,"d":46,"a":146,"b":147,"s":"B"},{"c":45,"d":46,"a":153,"b":154,"s":"B"},{"c":45,"d":46,"a":158,"b":160,"s":"B"},{"c":45,"d":46,"a":162,"b":163,"s":"B"},{"c":45,"d":46,"a":164,"b":165,"s":"B"},{"c":45,"d":46,"a":166,"b":167,"s":"B"},{"c":45,"d":46,"a":168,"b":169,"s":"B"},{"c":45,"d":46,"a":170,"b":172,"s":"B"},{"c":45,"d":46,"a":173,"b":175,"s":"B"},{"c":45,"d":46,"a":177,"b":179,"s":"B"},{"c":45,"d":46,"a":181,"b":182,"s":"B"},{"c":45,"d":46,"a":183,"b":184,"s":"B"},{"c":45,"d":46,"a":187,"b":188,"s":"B"},{"c":45,"d":46,"a":189,"b":192,"s":"B"},{"c":45,"d":46,"a":193,"b":194,"s":"B"},{"c":45,"d":46,"a":195,"b":197,"s":"B"},{"c":45,"d":46,"a":198,"b":200,"s":"B"},{"c":45,"d":46,"a":201,"b":202,"s":"B"},
{"c":47,"d":53,"a":0,"b":202,"s":"B"},{"c":53,"d":54,"a":0,"b":202,"s":"B2"},{"c":55,"d":56,"a":0,"b":202,"s":"B"},{"c":54,"d":55,"a":8,"b":10,"s":"B"},
{"c":57,"d":60,"a":1,"b":2,"s":"B"},{"c":61,"d":62,"a":1,"b":3,"s":"B"},{"c":62,"d":63,"a":1,"b":2,"s":"B2"},{"c":63,"d":64,"a":1,"b":2,"s":"B"},{"c":66,"d":67,"a":1,"b":2,"s":"B"},
{"c":57,"d":68,"a":5,"b":6,"s":"B"},{"c":64,"d":66,"a":5,"b":6,"s":"B2"},
{"c":57,"d":68,"a":8,"b":9,"s":"B"},{"c":62,"d":63,"a":8,"b":9,"s":"B2"},{"c":64,"d":66,"a":8,"b":9,"s":"B3"},{"c":61,"d":62,"a":9,"b":10,"s":"B"},
{"c":62,"d":63,"a":11,"b":12,"s":"B"},
{"c":57,"d":68,"a":13,"b":14,"s":"B"},{"c":64,"d":66,"a":13,"b":14,"s":"B2"},
{"c":58,"d":59,"a":15,"b":16,"s":"B"},{"c":60,"d":61,"a":15,"b":16,"s":"B"},{"c":63,"d":64,"a":15,"b":16,"s":"B"},{"c":66,"d":67,"a":15,"b":17,"s":"B"},
{"c":59,"d":61,"a":17,"b":18,"s":"B"},{"c":62,"d":63,"a":17,"b":18,"s":"B"},{"c":64,"d":66,"a":17,"b":18,"s":"B3"},{"c":66,"d":68,"a":17,"b":19,"s":"B"},{"c":60,"d":61,"a":18,"b":19,"s":"B"},{"c":63,"d":64,"a":18,"b":19,"s":"B"},{"c":64,"d":65,"a":18,"b":19,"s":"B3"},{"c":65,"d":66,"a":18,"b":19,"s":"B2"},
{"c":57,"d":68,"a":20,"b":21,"s":"B"},{"c":64,"d":66,"a":20,"b":21,"s":"B2"},
{"c":58,"d":68,"a":22,"b":23,"s":"B"},{"c":64,"d":66,"a":22,"b":23,"s":"B2"},
{"c":57,"d":68,"a":27,"b":28,"s":"B"},{"c":64,"d":66,"a":27,"b":28,"s":"B2"},
{"c":57,"d":68,"a":29,"b":33,"s":"B"},{"c":62,"d":63,"a":29,"b":30,"s":"C1"},{"c":64,"d":66,"a":29,"b":31,"s":"B2"},{"c":64,"d":66,"a":31,"b":33,"s":"B3"},
{"c":58,"d":59,"a":35,"b":36,"s":"B"},{"c":63,"d":64,"a":35,"b":36,"s":"B"},{"c":64,"d":66,"a":35,"b":36,"s":"B2"},
{"c":57,"d":64,"a":37,"b":38,"s":"B"},{"c":64,"d":66,"a":37,"b":38,"s":"B3"},{"c":66,"d":67,"a":37,"b":38,"s":"B"},
{"c":57,"d":60,"a":39,"b":40,"s":"B"},{"c":61,"d":62,"a":39,"b":40,"s":"C2"},{"c":62,"d":64,"a":39,"b":40,"s":"B"},{"c":66,"d":68,"a":39,"b":40,"s":"B"},
{"c":57,"d":59,"a":40,"b":41,"s":"B"},{"c":62,"d":68,"a":40,"b":41,"s":"B"},{"c":66,"d":67,"a":41,"b":42,"s":"B"},
{"c":57,"d":68,"a":42,"b":43,"s":"B"},{"c":64,"d":66,"a":42,"b":43,"s":"B2"},{"c":57,"d":68,"a":44,"b":45,"s":"B"},{"c":64,"d":66,"a":44,"b":45,"s":"B2"},{"c":58,"d":59,"a":45,"b":46,"s":"B"},{"c":61,"d":62,"a":45,"b":46,"s":"B"},{"c":57,"d":68,"a":46,"b":47,"s":"B"},{"c":64,"d":66,"a":46,"b":47,"s":"B2"},{"c":57,"d":68,"a":48,"b":49,"s":"B"},{"c":64,"d":66,"a":48,"b":49,"s":"B2"},{"c":57,"d":68,"a":50,"b":51,"s":"B"},{"c":64,"d":66,"a":50,"b":51,"s":"B2"},
{"c":57,"d":68,"a":52,"b":56,"s":"B"},{"c":66,"d":67,"a":52,"b":53,"s":"BG"},{"c":64,"d":66,"a":53,"b":56,"s":"B2"},{"c":57,"d":68,"a":58,"b":62,"s":"B"},{"c":64,"d":66,"a":58,"b":62,"s":"B2"},
{"c":57,"d":68,"a":65,"b":66,"s":"B"},{"c":64,"d":66,"a":65,"b":66,"s":"B2"},{"c":57,"d":59,"a":67,"b":68,"s":"B"},{"c":61,"d":62,"a":67,"b":68,"s":"B"},{"c":63,"d":64,"a":67,"b":68,"s":"B"},{"c":58,"d":59,"a":71,"b":72,"s":"B"},
{"c":57,"d":68,"a":73,"b":74,"s":"B"},{"c":62,"d":63,"a":73,"b":74,"s":"C1"},{"c":64,"d":66,"a":73,"b":74,"s":"B2"},
{"c":57,"d":59,"a":74,"b":75,"s":"B"},{"c":61,"d":62,"a":74,"b":75,"s":"B"},{"c":62,"d":63,"a":74,"b":75,"s":"B2"},{"c":63,"d":64,"a":74,"b":75,"s":"B"},{"c":64,"d":66,"a":74,"b":75,"s":"B2"},{"c":66,"d":67,"a":74,"b":75,"s":"B"},
{"c":57,"d":68,"a":75,"b":76,"s":"B"},{"c":64,"d":66,"a":75,"b":76,"s":"B2"},{"c":67,"d":68,"a":76,"b":77,"s":"B"},
{"c":57,"d":61,"a":84,"b":85,"s":"B"},{"c":62,"d":63,"a":84,"b":85,"s":"B2"},{"c":63,"d":64,"a":84,"b":85,"s":"B"},{"c":64,"d":66,"a":84,"b":85,"s":"B3"},{"c":66,"d":68,"a":84,"b":85,"s":"B"},
{"c":57,"d":68,"a":85,"b":86,"s":"B"},{"c":64,"d":66,"a":85,"b":86,"s":"B2"},{"c":63,"d":64,"a":87,"b":88,"s":"B"},{"c":67,"d":68,"a":87,"b":88,"s":"B"},
{"c":57,"d":68,"a":90,"b":91,"s":"B"},{"c":61,"d":62,"a":90,"b":91,"s":"B3"},{"c":62,"d":63,"a":90,"b":91,"s":"B2"},{"c":64,"d":66,"a":90,"b":91,"s":"B2"},
{"c":57,"d":60,"a":98,"b":99,"s":"B"},{"c":61,"d":62,"a":98,"b":99,"s":"B3"},{"c":62,"d":64,"a":98,"b":99,"s":"B"},{"c":64,"d":66,"a":98,"b":99,"s":"B2"},
{"c":57,"d":68,"a":99,"b":100,"s":"B"},{"c":64,"d":66,"a":99,"b":100,"s":"B2"},
{"c":58,"d":59,"a":102,"b":104,"s":"B"},{"c":66,"d":67,"a":102,"b":103,"s":"B"},{"c":61,"d":62,"a":103,"b":104,"s":"C1"},{"c":62,"d":63,"a":103,"b":104,"s":"B3"},{"c":67,"d":68,"a":103,"b":104,"s":"B"},
{"c":57,"d":61,"a":105,"b":106,"s":"B"},{"c":61,"d":62,"a":105,"b":106,"s":"B2"},{"c":63,"d":68,"a":105,"b":106,"s":"B"},
{"c":57,"d":63,"a":106,"b":107,"s":"B"},{"c":64,"d":66,"a":106,"b":107,"s":"B2"},{"c":66,"d":68,"a":106,"b":107,"s":"B"},
{"c":57,"d":62,"a":107,"b":108,"s":"B"},{"c":63,"d":64,"a":107,"b":108,"s":"B"},{"c":66,"d":68,"a":107,"b":108,"s":"B"},
{"c":57,"d":68,"a":109,"b":110,"s":"B"},{"c":64,"d":66,"a":109,"b":110,"s":"B2"},{"c":58,"d":59,"a":113,"b":114,"s":"B"},{"c":57,"d":68,"a":114,"b":115,"s":"B"},{"c":64,"d":66,"a":114,"b":115,"s":"B2"},{"c":64,"d":66,"a":118,"b":119,"s":"B2"},
{"c":57,"d":68,"a":121,"b":124,"s":"B"},{"c":64,"d":66,"a":121,"b":124,"s":"B2"},{"c":57,"d":64,"a":124,"b":125,"s":"B"},{"c":64,"d":66,"a":124,"b":125,"s":"B3"},{"c":66,"d":67,"a":124,"b":125,"s":"B"},{"c":57,"d":68,"a":125,"b":128,"s":"B"},{"c":64,"d":66,"a":125,"b":128,"s":"B2"},{"c":57,"d":64,"a":128,"b":129,"s":"B"},{"c":66,"d":68,"a":128,"b":129,"s":"B"},
{"c":66,"d":67,"a":132,"b":133,"s":"B"},{"c":57,"d":68,"a":133,"b":134,"s":"B"},{"c":64,"d":66,"a":133,"b":134,"s":"B2"},{"c":58,"d":60,"a":134,"b":135,"s":"B"},{"c":62,"d":63,"a":134,"b":135,"s":"B2"},{"c":63,"d":64,"a":134,"b":135,"s":"B"},{"c":64,"d":66,"a":134,"b":135,"s":"B2"},{"c":67,"d":68,"a":134,"b":135,"s":"B"},{"c":57,"d":64,"a":135,"b":136,"s":"B"},{"c":66,"d":68,"a":135,"b":136,"s":"B"},
{"c":58,"d":60,"a":137,"b":138,"s":"B"},{"c":61,"d":64,"a":137,"b":138,"s":"B"},{"c":67,"d":68,"a":137,"b":138,"s":"B"},
{"c":57,"d":64,"a":142,"b":143,"s":"B"},{"c":64,"d":66,"a":142,"b":143,"s":"B3"},{"c":66,"d":67,"a":142,"b":143,"s":"B"},
{"c":61,"d":62,"a":144,"b":145,"s":"B"},{"c":63,"d":64,"a":144,"b":145,"s":"B"},{"c":57,"d":64,"a":145,"b":146,"s":"B"},{"c":64,"d":66,"a":145,"b":146,"s":"B2"},{"c":66,"d":68,"a":145,"b":146,"s":"B"},{"c":61,"d":63,"a":146,"b":147,"s":"B"},
{"c":57,"d":59,"a":147,"b":148,"s":"B"},{"c":61,"d":62,"a":147,"b":148,"s":"B"},{"c":62,"d":63,"a":147,"b":148,"s":"B2"},{"c":63,"d":64,"a":147,"b":148,"s":"B"},{"c":64,"d":66,"a":147,"b":148,"s":"B2"},{"c":66,"d":68,"a":147,"b":148,"s":"B"},
{"c":57,"d":59,"a":148,"b":149,"s":"B"},{"c":62,"d":63,"a":148,"b":149,"s":"B2"},{"c":67,"d":68,"a":148,"b":149,"s":"B"},{"c":57,"d":63,"a":149,"b":150,"s":"B"},{"c":66,"d":68,"a":149,"b":150,"s":"B"},
{"c":57,"d":68,"a":153,"b":154,"s":"B"},{"c":64,"d":66,"a":153,"b":154,"s":"B2"},
{"c":57,"d":61,"a":156,"b":157,"s":"B"},{"c":62,"d":63,"a":156,"b":157,"s":"B"},{"c":64,"d":66,"a":156,"b":157,"s":"B3"},{"c":66,"d":68,"a":156,"b":157,"s":"B"},
{"c":58,"d":60,"a":158,"b":159,"s":"B"},{"c":61,"d":64,"a":158,"b":159,"s":"B"},{"c":66,"d":67,"a":158,"b":159,"s":"B"},{"c":57,"d":68,"a":159,"b":160,"s":"B"},{"c":62,"d":63,"a":159,"b":160,"s":"B2"},{"c":64,"d":66,"a":159,"b":160,"s":"B3"},
{"c":57,"d":68,"a":162,"b":163,"s":"B"},{"c":64,"d":66,"a":162,"b":163,"s":"B3"},{"c":62,"d":63,"a":163,"b":164,"s":"B2"},{"c":57,"d":68,"a":164,"b":165,"s":"B"},{"c":64,"d":66,"a":164,"b":165,"s":"B3"},
{"c":58,"d":59,"a":166,"b":167,"s":"B2"},{"c":60,"d":61,"a":166,"b":167,"s":"B"},{"c":62,"d":63,"a":166,"b":167,"s":"B3"},{"c":63,"d":66,"a":166,"b":167,"s":"B"},
{"c":57,"d":68,"a":168,"b":169,"s":"B"},{"c":64,"d":66,"a":168,"b":169,"s":"B2"},{"c":57,"d":64,"a":170,"b":172,"s":"B"},{"c":66,"d":67,"a":170,"b":172,"s":"B"},{"c":67,"d":68,"a":171,"b":172,"s":"B"},
{"c":57,"d":59,"a":173,"b":174,"s":"B"},{"c":62,"d":63,"a":173,"b":174,"s":"B2"},{"c":63,"d":64,"a":173,"b":174,"s":"B"},{"c":57,"d":68,"a":174,"b":175,"s":"B"},{"c":64,"d":66,"a":174,"b":175,"s":"B2"},
{"c":61,"d":62,"a":176,"b":177,"s":"B"},{"c":57,"d":68,"a":177,"b":179,"s":"B"},{"c":64,"d":66,"a":177,"b":179,"s":"B2"},{"c":66,"d":67,"a":179,"b":180,"s":"B"},{"c":58,"d":59,"a":180,"b":181,"s":"B"},{"c":61,"d":62,"a":180,"b":181,"s":"B"},
{"c":57,"d":68,"a":181,"b":182,"s":"B"},{"c":64,"d":66,"a":181,"b":182,"s":"B3"},{"c":57,"d":66,"a":183,"b":184,"s":"B"},{"c":67,"d":68,"a":183,"b":184,"s":"B"},{"c":64,"d":66,"a":183,"b":184,"s":"B3"},{"c":57,"d":66,"a":187,"b":188,"s":"B"},{"c":64,"d":66,"a":187,"b":188,"s":"B2"},{"c":67,"d":68,"a":187,"b":188,"s":"B"},
{"c":57,"d":68,"a":189,"b":192,"s":"B"},{"c":62,"d":63,"a":189,"b":190,"s":"B2"},{"c":64,"d":66,"a":189,"b":190,"s":"B3"},{"c":64,"d":66,"a":190,"b":192,"s":"B2"},
{"c":57,"d":61,"a":193,"b":194,"s":"B"},{"c":62,"d":64,"a":193,"b":194,"s":"B"},{"c":64,"d":66,"a":193,"b":194,"s":"B2"},{"c":66,"d":67,"a":193,"b":194,"s":"B"},
{"c":57,"d":68,"a":195,"b":197,"s":"B"},{"c":64,"d":66,"a":195,"b":197,"s":"B2"},
{"c":57,"d":59,"a":198,"b":199,"s":"B"},{"c":60,"d":62,"a":198,"b":199,"s":"B"},{"c":63,"d":64,"a":198,"b":199,"s":"B"},{"c":64,"d":66,"a":198,"b":199,"s":"B3"},{"c":66,"d":67,"a":198,"b":199,"s":"B"},{"c":57,"d":68,"a":199,"b":200,"s":"B"},{"c":64,"d":66,"a":199,"b":200,"s":"B3"},
{"c":57,"d":67,"a":201,"b":202,"s":"B"},{"c":64,"d":66,"a":201,"b":202,"s":"B3"},
{"c":0,"d":68,"a":3,"b":5,"s":"N"},{"c":0,"d":68,"a":6,"b":8,"s":"N"},{"c":0,"d":68,"a":10,"b":11,"s":"N"},{"c":0,"d":68,"a":62,"b":63,"s":"N"},{"c":0,"d":68,"a":77,"b":78,"s":"N"},{"c":0,"d":68,"a":119,"b":120,"s":"N"},{"c":0,"d":68,"a":154,"b":156,"s":"N"},{"c":0,"d":68,"a":161,"b":162,"s":"N"},{"c":0,"d":68,"a":188,"b":189,"s":"N"}
],
"segments":[
{"k":"l","x":874.7,"y":223,"u":1037.3,"v":327},{"k":"l","x":1037.3,"y":327,"u":1037.3,"v":352},{"k":"l","x":905,"y":223,"u":1054,"v":327},{"k":"l","x":1054,"y":327,"u":1054,"v":352},{"k":"l","x":931,"y":223,"u":1087,"v":327},{"k":"l","x":1087,"y":327,"u":1087,"v":352},{"k":"l","x":962,"y":223,"u":1107,"v":327},{"k":"l","x":1107,"y":327,"u":1107,"v":352},{"k":"l","x":999,"y":223,"u":1128,"v":327},{"k":"l","x":1128,"y":327,"u":1128,"v":352},{"k":"l","x":1037,"y":223,"u":1149.5,"v":327},{"k":"l","x":1149.5,"y":327,"u":1149.5,"v":352},{"k":"l","x":1073,"y":223,"u":1170,"v":327},{"k":"l","x":1170,"y":327,"u":1170,"v":352},{"k":"l","x":1102,"y":223,"u":1192,"v":327},{"k":"l","x":1192,"y":327,"u":1192,"v":352},{"k":"l","x":1133,"y":223,"u":1213,"v":327},{"k":"l","x":1213,"y":327,"u":1213,"v":352},{"k":"l","x":1172,"y":225,"u":1233.5,"v":327},{"k":"l","x":1233.5,"y":327,"u":1233.5,"v":352},{"k":"l","x":1203,"y":223,"u":1254,"v":327},{"k":"l","x":1254,"y":327,"u":1254,"v":352},{"k":"l","x":1235,"y":221,"u":1273.6,"v":327},{"k":"l","x":1273.6,"y":327,"u":1273.6,"v":352},{"k":"l","x":1272,"y":226,"u":1303.4,"v":327},{"k":"l","x":1303.4,"y":327,"u":1303.4,"v":352},{"k":"l","x":1301,"y":224,"u":1323.5,"v":325},{"k":"l","x":1323.5,"y":327,"u":1323.5,"v":352},{"k":"l","x":1337.6,"y":226,"u":1348,"v":327},{"k":"l","x":1348,"y":327,"u":1348,"v":352},{"k":"l","x":1370,"y":226,"u":1373,"v":327},{"k":"l","x":1373,"y":327,"u":1373,"v":352},{"k":"l","x":1399,"y":224,"u":1399,"v":352},{"k":"l","x":1430,"y":227,"u":1419.4,"v":327},{"k":"l","x":1419.4,"y":327,"u":1419.4,"v":352},{"k":"l","x":1458,"y":228,"u":1440.5,"v":327},{"k":"l","x":1440.5,"y":327,"u":1440.5,"v":352},{"k":"l","x":1491,"y":224,"u":1462,"v":327},{"k":"l","x":1462,"y":327,"u":1462,"v":352},{"k":"l","x":1524,"y":224,"u":1484,"v":327},{"k":"l","x":1484,"y":327,"u":1484,"v":352},{"k":"l","x":1555.4,"y":224,"u":1503.4,"v":327},{"k":"l","x":1503.4,"y":327,"u":1503.4,"v":352},{"k":"l","x":1588,"y":225,"u":1526.7,"v":327},{"k":"l","x":1526.7,"y":327,"u":1526.7,"v":352},{"k":"l","x":1624,"y":227,"u":1549,"v":327},{"k":"l","x":1549,"y":327,"u":1549,"v":352},{"k":"l","x":1663,"y":224,"u":1571.7,"v":327},{"k":"l","x":1571.7,"y":327,"u":1571.7,"v":352},{"k":"l","x":1699,"y":225,"u":1616,"v":327},{"k":"l","x":1616,"y":327,"u":1616,"v":352},{"k":"l","x":1730,"y":225,"u":1661,"v":327},{"k":"l","x":1661,"y":327,"u":1661,"v":352},{"k":"l","x":1764,"y":220,"u":1704,"v":327},{"k":"l","x":1704,"y":327,"u":1704,"v":352},{"k":"l","x":1794,"y":222,"u":1745,"v":327},{"k":"l","x":1745,"y":327,"u":1745,"v":352},{"k":"l","x":1827,"y":222,"u":1767,"v":327},{"k":"l","x":1767,"y":327,"u":1767,"v":352},{"k":"l","x":1863,"y":220,"u":1786,"v":327},{"k":"l","x":1786,"y":327,"u":1786,"v":352},{"k":"l","x":1905,"y":220,"u":1807,"v":327},{"k":"l","x":1807,"y":327,"u":1807,"v":352},{"k":"l","x":1937,"y":223,"u":1828,"v":327},{"k":"l","x":1828,"y":327,"u":1828,"v":352},{"k":"l","x":1973.5,"y":220,"u":1850.6,"v":327},{"k":"l","x":1850.6,"y":327,"u":1850.6,"v":352},{"k":"l","x":2008,"y":220,"u":1868,"v":327},{"k":"l","x":1868,"y":327,"u":1868,"v":352},{"k":"l","x":2038.5,"y":223,"u":1894,"v":327},{"k":"l","x":1894,"y":327,"u":1894,"v":352},{"k":"l","x":2080.7,"y":220,"u":1921.5,"v":327},{"k":"l","x":1921.5,"y":327,"u":1921.5,"v":352},{"k":"l","x":2113,"y":222,"u":1942.6,"v":327},{"k":"l","x":1942.6,"y":327,"u":1942.6,"v":352},{"k":"l","x":2151,"y":224,"u":2004,"v":327},{"k":"l","x":2004,"y":327,"u":2004,"v":352},{"k":"l","x":2192,"y":225,"u":2154,"v":327},{"k":"l","x":2154,"y":327,"u":2154,"v":352},{"k":"l","x":2236,"y":228,"u":2273,"v":327},{"k":"l","x":2273,"y":327,"u":2273,"v":352},{"k":"l","x":2278,"y":223,"u":2385.6,"v":327},{"k":"l","x":2385.6,"y":327,"u":2385.6,"v":352},
{"k":"l","x":1585,"y":353,"u":1649,"v":353},{"k":"l","x":1673.6,"y":352,"u":1734,"v":352},{"k":"l","x":1971,"y":352,"u":2037,"v":352},{"k":"l","x":2055,"y":352,"u":2246,"v":352},{"k":"l","x":2291,"y":352,"u":2500,"v":352},{"k":"l","x":11,"y":51,"u":388,"v":51},
{"k":"v","x":934.6,"y":362,"u":934.6,"v":2216.5},{"k":"v","x":958.3,"y":362,"u":958.3,"v":2216.5},{"k":"v","x":982,"y":362,"u":982,"v":2216.5},{"k":"v","x":1006,"y":362,"u":1006,"v":2216.5},{"k":"v","x":1071,"y":362,"u":1071,"v":2216.5},{"k":"v","x":1094.5,"y":362,"u":1094.5,"v":2216.5},{"k":"v","x":1118.5,"y":362,"u":1118.5,"v":2216.5},{"k":"v","x":1288.8,"y":362,"u":1288.8,"v":2216.5},{"k":"v","x":1312.6,"y":362,"u":1312.6,"v":2216.5},{"k":"v","x":1337.6,"y":362,"u":1337.6,"v":2216.5},{"k":"v","x":1361.4,"y":362,"u":1361.4,"v":2216.5},{"k":"v","x":1386.3,"y":362,"u":1386.3,"v":2216.5},{"k":"v","x":1409.6,"y":362,"u":1409.6,"v":2216.5},{"k":"v","x":1559.5,"y":362,"u":1559.5,"v":2216.5},{"k":"v","x":1582,"y":362,"u":1582,"v":2216.5},{"k":"v","x":1647.3,"y":362,"u":1647.3,"v":2216.5},{"k":"v","x":1670.5,"y":362,"u":1670.5,"v":2216.5},{"k":"v","x":1883,"y":362,"u":1883,"v":2216.5},{"k":"v","x":1906.5,"y":362,"u":1906.5,"v":2216.5},
{"k":"b","x":597,"y":463,"u":631,"v":463},{"k":"b","x":631,"y":392,"u":631,"v":534},{"k":"b","x":631,"y":392,"u":663,"v":392},{"k":"b","x":663,"y":373,"u":663,"v":411},{"k":"b","x":663,"y":373,"u":667,"v":373},{"k":"b","x":667,"y":366,"u":667,"v":382},{"k":"b","x":667,"y":366,"u":780,"v":366},{"k":"b","x":667,"y":382,"u":741,"v":382},{"k":"b","x":741,"y":375,"u":741,"v":389},{"k":"b","x":741,"y":375,"u":773,"v":375},{"k":"b","x":741,"y":389,"u":762,"v":389},{"k":"b","x":762,"y":384,"u":762,"v":393},{"k":"b","x":762,"y":384,"u":769,"v":384},{"k":"b","x":762,"y":393,"u":773,"v":393},{"k":"b","x":663,"y":411,"u":700,"v":411},{"k":"b","x":700,"y":402,"u":700,"v":419},{"k":"b","x":700,"y":402,"u":890,"v":402},{"k":"b","x":700,"y":419,"u":822,"v":419},{"k":"b","x":822,"y":412,"u":822,"v":426},{"k":"b","x":822,"y":412,"u":903,"v":412},{"k":"b","x":822,"y":426,"u":828,"v":426},{"k":"b","x":828,"y":421,"u":828,"v":430},{"k":"b","x":828,"y":421,"u":863,"v":421},{"k":"b","x":828,"y":430,"u":867,"v":430},
{"k":"b","x":631,"y":534,"u":695,"v":534},{"k":"b","x":695,"y":439,"u":695,"v":631},{"k":"b","x":695,"y":439,"u":778,"v":439},{"k":"b","x":695,"y":631,"u":702,"v":631},{"k":"b","x":702,"y":453,"u":702,"v":808},{"k":"b","x":702,"y":453,"u":789,"v":453},{"k":"b","x":789,"y":447,"u":789,"v":457},{"k":"b","x":789,"y":457,"u":794,"v":457},{"k":"b","x":702,"y":808,"u":735,"v":808},{"k":"t","x":735,"y":477,"u":735,"v":925},{"k":"b","x":735,"y":925,"u":735,"v":1601},{"k":"b","x":735,"y":477,"u":741,"v":477},{"k":"b","x":741,"y":466,"u":741,"v":490},{"k":"b","x":741,"y":466,"u":780,"v":466},{"k":"b","x":741,"y":490,"u":759,"v":490},{"k":"b","x":759,"y":475,"u":759,"v":503},{"k":"b","x":759,"y":475,"u":777,"v":475},{"k":"t","x":763,"y":485,"u":763,"v":518},{"k":"f","x":765,"y":484,"u":773,"v":484},{"k":"f","x":765,"y":493,"u":775,"v":493},{"k":"f","x":765,"y":506,"u":775,"v":506},{"k":"f","x":776,"y":502,"u":776,"v":512},{"k":"b","x":765,"y":507,"u":765,"v":529},{"k":"b","x":765,"y":529,"u":778,"v":529},{"k":"b","x":778,"y":520,"u":778,"v":548},{"k":"f","x":778,"y":521,"u":782,"v":521},
{"k":"b","x":735,"y":681,"u":758,"v":681},{"k":"t","x":758,"y":570,"u":758,"v":945},{"k":"b","x":758,"y":570,"u":773,"v":570},{"k":"f","x":773,"y":557,"u":773,"v":585},{"k":"f","x":773,"y":557,"u":779,"v":557},{"k":"f","x":773,"y":566,"u":779,"v":566},{"k":"f","x":773,"y":575,"u":780,"v":575},{"k":"f","x":773,"y":585,"u":782,"v":585},{"k":"b","x":758,"y":598,"u":777,"v":598},{"k":"f","x":777,"y":593,"u":777,"v":603},{"k":"f","x":777,"y":593,"u":783,"v":593},{"k":"f","x":777,"y":603,"u":783,"v":603},{"k":"b","x":758,"y":626,"u":772,"v":626},{"k":"f","x":772,"y":616,"u":772,"v":635},{"k":"f","x":777,"y":612,"u":777,"v":630},{"k":"f","x":777,"y":612,"u":785,"v":612},{"k":"f","x":777,"y":621,"u":787,"v":621},{"k":"f","x":778,"y":630,"u":787,"v":630},{"k":"f","x":778,"y":630,"u":778,"v":639},{"k":"f","x":778,"y":639,"u":787,"v":639},{"k":"b","x":758,"y":681,"u":770,"v":681},{"k":"b","x":770,"y":652,"u":770,"v":703},{"k":"b","x":770,"y":652,"u":774,"v":652},{"k":"f","x":774,"y":648,"u":774,"v":657},{"k":"f","x":774,"y":648,"u":782,"v":648},{"k":"f","x":774,"y":657,"u":788,"v":657},{"k":"b","x":770,"y":670,"u":782,"v":670},{"k":"f","x":782,"y":665,"u":782,"v":675},{"k":"b","x":770,"y":703,"u":778,"v":703},{"k":"b","x":778,"y":683,"u":778,"v":720},{"k":"f","x":778,"y":683,"u":786,"v":683},{"k":"f","x":778,"y":693,"u":790,"v":693},{"k":"t","x":781,"y":702,"u":781,"v":748},{"k":"t","x":783,"y":702,"u":783,"v":930},{"k":"f","x":783,"y":720,"u":788,"v":720},{"k":"f","x":783,"y":729,"u":787,"v":729},{"k":"f","x":783,"y":737,"u":786,"v":737},{"k":"f","x":783,"y":770,"u":786,"v":770},{"k":"f","x":783,"y":800,"u":786,"v":800},{"k":"f","x":783,"y":840,"u":786,"v":840},{"k":"f","x":783,"y":880,"u":786,"v":880},{"k":"f","x":783,"y":900,"u":786,"v":900},
{"k":"b","x":758,"y":940,"u":797,"v":940},{"k":"t","x":761,"y":950,"u":761,"v":1000},{"k":"f","x":763,"y":955,"u":783,"v":955},{"k":"f","x":765,"y":962,"u":777,"v":962},{"k":"f","x":773,"y":973,"u":790,"v":973},{"k":"f","x":773,"y":966,"u":773,"v":992},{"k":"f","x":773,"y":983,"u":786,"v":983},{"k":"f","x":773,"y":992,"u":787,"v":992},{"k":"f","x":770,"y":1000,"u":780,"v":1000},{"k":"t","x":766,"y":1000,"u":766,"v":1050},{"k":"f","x":776,"y":1005,"u":776,"v":1040},{"k":"f","x":776,"y":1015,"u":782,"v":1015},{"k":"f","x":776,"y":1025,"u":782,"v":1025},{"k":"f","x":776,"y":1038,"u":780,"v":1038},{"k":"t","x":771,"y":1048,"u":771,"v":1100},{"k":"f","x":772,"y":1048,"u":785,"v":1048},{"k":"f","x":772,"y":1065,"u":782,"v":1065},{"k":"f","x":772,"y":1077,"u":783,"v":1077},{"k":"t","x":774,"y":1100,"u":774,"v":1302},{"k":"f","x":778,"y":1092,"u":783,"v":1092},{"k":"f","x":778,"y":1120,"u":785,"v":1120},{"k":"f","x":779,"y":1112,"u":779,"v":1130},{"k":"f","x":779,"y":1152,"u":786,"v":1152},{"k":"f","x":779,"y":1145,"u":779,"v":1165},{"k":"f","x":779,"y":1165,"u":785,"v":1165},{"k":"f","x":775,"y":1183,"u":783,"v":1183},{"k":"f","x":775,"y":1202,"u":783,"v":1202},{"k":"f","x":775,"y":1217,"u":783,"v":1217},{"k":"f","x":775,"y":1225,"u":785,"v":1225},{"k":"f","x":775,"y":1238,"u":785,"v":1238},{"k":"f","x":775,"y":1252,"u":785,"v":1252},
{"k":"r","x":773,"y":1300,"u":783,"v":1300},{"k":"R","x":784,"y":1261,"u":784,"v":1361},{"k":"r","x":784,"y":1261,"u":790,"v":1261},{"k":"r","x":784,"y":1275,"u":792,"v":1275},{"k":"r","x":784,"y":1288,"u":789,"v":1288},{"k":"R","x":784,"y":1302,"u":795,"v":1302},{"k":"R","x":786,"y":1320,"u":797,"v":1320},{"k":"r","x":784,"y":1334,"u":790,"v":1334},{"k":"r","x":784,"y":1348,"u":788,"v":1348},{"k":"r","x":784,"y":1359,"u":788,"v":1359},
{"k":"b","x":735,"y":1601,"u":748,"v":1601},{"k":"b","x":748,"y":1398,"u":748,"v":1800},{"k":"t","x":750,"y":1800,"u":750,"v":1895},{"k":"t","x":752,"y":1895,"u":752,"v":2100},{"k":"b","x":748,"y":1400,"u":757,"v":1400},{"k":"b","x":757,"y":1384,"u":757,"v":1413},{"k":"b","x":757,"y":1384,"u":767,"v":1384},{"k":"t","x":767,"y":1373,"u":767,"v":1398},{"k":"f","x":767,"y":1374,"u":772,"v":1374},{"k":"f","x":767,"y":1385,"u":772,"v":1385},{"k":"f","x":767,"y":1397,"u":772,"v":1397},{"k":"b","x":757,"y":1413,"u":763,"v":1413},{"k":"b","x":763,"y":1407,"u":763,"v":1434},{"k":"b","x":763,"y":1407,"u":778,"v":1407},{"k":"b","x":763,"y":1434,"u":770,"v":1434},{"k":"t","x":770,"y":1421,"u":770,"v":1444},{"k":"f","x":770,"y":1421,"u":778,"v":1421},{"k":"f","x":770,"y":1430,"u":778,"v":1430},{"k":"f","x":770,"y":1440,"u":778,"v":1440},
{"k":"b","x":748,"y":1452,"u":783,"v":1452},{"k":"r","x":747,"y":1471,"u":773,"v":1471},{"k":"R","x":774,"y":1466,"u":774,"v":1637},{"k":"r","x":774,"y":1470,"u":782,"v":1470},{"k":"r","x":774,"y":1490,"u":778,"v":1490},
{"k":"b","x":750,"y":1670,"u":758,"v":1670},{"k":"b","x":750,"y":1645,"u":775,"v":1645},{"k":"b","x":758,"y":1652,"u":775,"v":1652},{"k":"t","x":758,"y":1654,"u":760,"v":1736},{"k":"b","x":760,"y":1663,"u":783,"v":1663},{"k":"b","x":765,"y":1674,"u":780,"v":1674},{"k":"b","x":766,"y":1674,"u":766,"v":1700},{"k":"b","x":766,"y":1700,"u":773,"v":1700},{"k":"t","x":773,"y":1690,"u":773,"v":1717},{"k":"b","x":761,"y":1736,"u":770,"v":1736},{"k":"b","x":770,"y":1727,"u":770,"v":1745},{"k":"b","x":770,"y":1727,"u":782,"v":1727},{"k":"t","x":778,"y":1740,"u":778,"v":1772},{"k":"f","x":778,"y":1752,"u":787,"v":1752},{"k":"f","x":778,"y":1763,"u":787,"v":1763},{"k":"f","x":778,"y":1772,"u":787,"v":1772},
{"k":"b","x":752,"y":1788,"u":759,"v":1788},{"k":"b","x":759,"y":1782,"u":759,"v":1791},{"k":"b","x":759,"y":1782,"u":800,"v":1782},{"k":"b","x":759,"y":1791,"u":887,"v":1791},{"k":"b","x":753,"y":1809,"u":770,"v":1809},{"k":"b","x":771,"y":1800,"u":771,"v":1827},{"k":"f","x":771,"y":1802,"u":783,"v":1802},{"k":"f","x":772,"y":1813,"u":781,"v":1813},{"k":"f","x":772,"y":1827,"u":778,"v":1827},
{"k":"b","x":750,"y":1880,"u":767,"v":1880},{"k":"t","x":767,"y":1846,"u":767,"v":1941},{"k":"r","x":764,"y":1846,"u":790,"v":1846},{"k":"R","x":775,"y":1838,"u":778,"v":1858},{"k":"R","x":778,"y":1858,"u":782,"v":1882},{"k":"r","x":772,"y":1850,"u":782,"v":1850},{"k":"r","x":774,"y":1866,"u":785,"v":1866},{"k":"b","x":767,"y":1891,"u":783,"v":1891},{"k":"b","x":767,"y":1914,"u":781,"v":1914},{"k":"t","x":772,"y":1918,"u":772,"v":1987},{"k":"f","x":773,"y":1932,"u":783,"v":1932},{"k":"f","x":776,"y":1940,"u":785,"v":1940},{"k":"t","x":783,"y":1940,"u":783,"v":1958},{"k":"t","x":777,"y":1960,"u":777,"v":2000},{"k":"f","x":772,"y":1970,"u":780,"v":1970},
{"k":"b","x":752,"y":2020,"u":769,"v":2020},{"k":"b","x":769,"y":2011,"u":769,"v":2030},{"k":"b","x":769,"y":2011,"u":774,"v":2011},{"k":"b","x":769,"y":2030,"u":777,"v":2030},{"k":"t","x":777,"y":2019,"u":777,"v":2075},
{"k":"b","x":752,"y":2099,"u":755,"v":2099},{"k":"b","x":755,"y":2085,"u":755,"v":2115},{"k":"b","x":755,"y":2085,"u":777,"v":2085},{"k":"b","x":755,"y":2115,"u":763,"v":2115},{"k":"b","x":763,"y":2092,"u":763,"v":2170},{"k":"b","x":763,"y":2095,"u":777,"v":2095},{"k":"b","x":763,"y":2106,"u":773,"v":2106},{"k":"t","x":773,"y":2101,"u":773,"v":2128},{"k":"f","x":773,"y":2105,"u":782,"v":2105},{"k":"f","x":773,"y":2112,"u":782,"v":2112},{"k":"f","x":773,"y":2120,"u":780,"v":2120},{"k":"f","x":773,"y":2128,"u":780,"v":2128},{"k":"b","x":767,"y":2147,"u":777,"v":2147},{"k":"t","x":777,"y":2138,"u":777,"v":2160},{"k":"t","x":768,"y":2147,"u":768,"v":2178},{"k":"t","x":773,"y":2170,"u":773,"v":2210},{"k":"f","x":773,"y":2180,"u":780,"v":2180},{"k":"f","x":773,"y":2190,"u":780,"v":2190},{"k":"f","x":773,"y":2200,"u":782,"v":2200},{"k":"f","x":773,"y":2210,"u":780,"v":2210}
],
"tips":[{"l":"Lineage V","x":788,"y":366},{"l":"Lineage IV","x":897,"y":402},{"l":"Lineage I","x":911,"y":412},{"l":"Lineage II","x":874,"y":430},{"l":"Lineage III","x":784,"y":439},{"l":"Lineage IIIa","x":788,"y":467},{"l":"Lineage III Central Asia","x":803,"y":940},{"l":"Lineage III MSM clade 1","x":789,"y":1077},{"l":"Lineage III MSM clade 2","x":792,"y":1462},{"l":"Lineage III OJCA","x":807,"y":1782},{"l":"Lineage III global","x":893,"y":1791},{"l":"Lineage III MSM clade 4","x":797,"y":1846},{"l":"Lineage III MSM clade 3","x":784,"y":2094}],
"legendItems":[{"l":"Lineage I","x":38,"y":87,"tx":70,"ty":88},{"l":"Lineage II","x":38,"y":153,"tx":70,"ty":154},{"l":"Lineage III","x":38,"y":219,"tx":70,"ty":225},{"l":"Lineage III global","x":38,"y":285,"tx":70,"ty":290},{"l":"Lineage III Central Asia","x":38,"y":352,"tx":70,"ty":355},{"l":"Lineage IIIa","x":38,"y":418,"tx":70,"ty":424},{"l":"Lineage III OJCA","x":38,"y":489,"tx":70,"ty":490},{"l":"Lineage III MSM clade 1","x":38,"y":553,"tx":70,"ty":554},{"l":"Lineage III MSM clade 2","x":38,"y":619,"tx":70,"ty":620},{"l":"Lineage III MSM clade 3","x":38,"y":684,"tx":70,"ty":685},{"l":"Lineage III MSM clade 4","x":38,"y":753,"tx":70,"ty":754},{"l":"Lineage IV","x":38,"y":823,"tx":70,"ty":824},{"l":"Lineage V","x":38,"y":889,"tx":70,"ty":890}],
"italicLabels":[{"t":"aac(3)-IId","x":868,"y":212},{"t":"aph(3”)-Ib","x":904,"y":212},{"t":"blaTEM-1B","x":1002.6,"y":212},{"t":"blaTEM-1C","x":1035,"y":212},{"t":"blaTEM-30","x":1067.6,"y":212},{"t":"blaDHA-1","x":1101,"y":212},{"t":"blaOXA-1","x":1137,"y":212},{"t":"blaCTX-M-15","x":1172,"y":212},{"t":"blaCTX-M-32","x":1206,"y":212},{"t":"blaCTX-M-55","x":1240,"y":212},{"t":"dfrA1","x":1430,"y":212},{"t":"dfrA14","x":1462,"y":212},{"t":"dfrA15","x":1493,"y":212},{"t":"dfrA17","x":1525.6,"y":212},{"t":"dfrA5","x":1561,"y":212},{"t":"dfrA7","x":1594.5,"y":212},{"t":"dfrA8","x":1632,"y":212},{"t":"sul1-3","x":1696,"y":212},{"t":"qnr","x":1761,"y":212},{"t":"gyrA","x":1795,"y":212},{"t":"gyrA","x":1829,"y":212},{"t":"gyrA","x":1864,"y":212},{"t":"gyrA","x":1901,"y":212},{"t":"gyrA","x":1934.5,"y":212},{"t":"parC","x":1973.5,"y":212},{"t":"parE","x":2010,"y":212},{"t":"erm(B)","x":2080.7,"y":212},{"t":"mph(A)","x":2115,"y":212}],
"romanLabels":[{"t":"tobramycin","x":936.5,"y":212},{"t":"gentamicin","x":969,"y":212},{"t":"ampicillin","x":1272,"y":212},{"t":"amox-clav","x":1302,"y":212},{"t":"piper-tazo","x":1334,"y":212},{"t":"cefotaxime","x":1369.5,"y":212},{"t":"ceftazidime","x":1400,"y":212},{"t":"trimethoprim","x":1663,"y":212},{"t":"cotrimoxazole","x":1727.6,"y":212},{"t":"genes","x":1761,"y":167},{"t":"S83A","x":1795,"y":153},{"t":"S83L","x":1829,"y":153},{"t":"D87Y","x":1864,"y":153},{"t":"D87G","x":1901,"y":153},{"t":"D87N","x":1934.5,"y":153},{"t":"S80I","x":1973.5,"y":153},{"t":"S458A","x":2010,"y":153},{"t":"ciprofloxacin","x":2045.5,"y":212},{"t":"SHI-1","x":2152,"y":212},{"t":"SHI-2","x":2192,"y":212},{"t":"mxi-spa operon","x":2232,"y":212},{"t":"T3SS effectors","x":2271,"y":212}],
"redText":[{"t":"sonnei-MSM-1","x":438,"y":1307},{"t":"lineage III MSM clade 2","x":438,"y":1525},{"t":"lineage III MSM clade 4","x":438,"y":1861}],
"plainTitle":[{"t":"Reference","x":12,"y":37},{"t":"genomes","x":263,"y":37},{"t":"III","x":656,"y":563}],
"italicTitle":[{"t":"S. sonnei","x":144,"y":37}]
},
"resolve":{"scale":{"x":"independent","y":"independent","color":"independent","strokeWidth":"independent"}},
"layer":[
{"data":{"name":"cells"},"mark":{"type":"rect","strokeWidth":0},"encoding":{
"x":{"field":"c","type":"quantitative","axis":null,"scale":{"type":"linear","nice":false,"zero":false,"domain":[-8,-7,-6,-5,-4,-3,-2,-1,0,1,2,3,4,5,6,7,8,9,10,11,12,13,14,15,16,17,18,19,20,21,22,23,24,25,26,27,28,29,30,31,32,33,34,35,36,37,38,39,40,41,42,43,44,45,46,47,48,49,50,51,52,53,54,55,56,57,58,59,60,61,62,63,64,65,66,67,68],"range":[537,565,935,957.5,959.5,981.5,983,1005.5,1028,1049.2,1070.4,1094.5,1118.6,1139.9,1161.2,1182.4,1203.7,1225,1246.2,1267.5,1288.8,1312.6,1337.6,1361.4,1386.3,1409.6,1431,1452,1474,1495,1516,1538,1559.5,1582,1604,1625.4,1647.3,1670.5,1692,1713,1734,1755,1776.5,1798,1819,1840,1861.5,1883,1906.5,1928,1950,1971,1992.3,2013.6,2034.9,2055.7,2077,2098.2,2119.4,2140.6,2161.8,2183,2204.2,2225.4,2246.5,2267.5,2288.7,2310,2331.3,2352.6,2373.8,2395,2416.3,2437.6,2458.8,2480,2501]}},
"x2":{"field":"d"},
"y":{"field":"a","type":"quantitative","axis":null,"scale":{"nice":false,"zero":false,"domain":[0,202],"range":[371,2205.7]}},
"y2":{"field":"b"},
"color":{"field":"s","type":"nominal","legend":null,"scale":{"domain":["BG","S","R","I","N","D","E","Q","B","B2","B3","C1","C2","g1","g2","g3","K","pu","pv","lil","sg","sy","st","sp","sb","sv"],"range":["#e3ebd7","#17863f","#ee2f2b","#f9a11f","#ffffff","#4f5254","#818385","#b84f9e","#4860ac","#6276b8","#7f92cc","#aadcf0","#92b6e2","#d1d3d4","#a0a2a4","#58595b","#000000","#544a9e","#7b4fa0","#c992c8","#b1d89c","#f5f099","#b7b28e","#f9b4c4","#9bd5e8","#c4aed6"]}}
}},
{"data":{"name":"segments"},"mark":{"type":"rule"},"encoding":{
"x":{"field":"x","type":"quantitative","axis":null,"scale":{"nice":false,"zero":false,"domain":[0,2529],"range":[0,2529]}},"x2":{"field":"u"},
"y":{"field":"y","type":"quantitative","axis":null,"scale":{"type":"linear","nice":false,"zero":false,"domain":[0,800,2237],"range":[0,800,2225.4]}},"y2":{"field":"v"},
"color":{"field":"k","type":"nominal","legend":null,"scale":{"domain":["l","v","b","t","f","r","R"],"range":["#000000","#000000","#000000","#000000","#000000","#ee2f2b","#ee2f2b"]}},
"strokeWidth":{"field":"k","type":"nominal","legend":null,"scale":{"type":"ordinal","domain":["l","v","b","t","f","r","R"],"range":[2.4,2.5,2.5,4,2.8,3,7]}}
}},
{"data":{"name":"tips"},"mark":{"type":"point","filled":true,"shape":"circle","size":290,"opacity":1,"strokeWidth":0},"encoding":{
"x":{"field":"x","type":"quantitative","axis":null,"scale":{"nice":false,"zero":false,"domain":[0,2529],"range":[0,2529]}},
"y":{"field":"y","type":"quantitative","axis":null,"scale":{"type":"linear","nice":false,"zero":false,"domain":[0,800,2237],"range":[0,800,2225.4]}},
"color":{"field":"l","type":"nominal","legend":null,"scale":{"domain":["Lineage I","Lineage II","Lineage III","Lineage III global","Lineage III Central Asia","Lineage IIIa","Lineage III OJCA","Lineage III MSM clade 1","Lineage III MSM clade 2","Lineage III MSM clade 3","Lineage III MSM clade 4","Lineage IV","Lineage V"],"range":["#f59a44","#60b946","#ef4a98","#c692c2","#7b50a3","#6d67b0","#5e3f9c","#2e6db6","#2fc4f0","#0098d0","#1b4a9c","#4d6531","#f0e725"]}}
}},
{"data":{"name":"legendItems"},"mark":{"type":"point","filled":true,"shape":"circle","size":1980,"opacity":1,"stroke":"#1a1a1a","strokeWidth":1.6},"encoding":{
"x":{"field":"x","type":"quantitative","axis":null,"scale":{"nice":false,"zero":false,"domain":[0,2529],"range":[0,2529]}},
"y":{"field":"y","type":"quantitative","axis":null,"scale":{"nice":false,"zero":false,"domain":[0,2237],"range":[0,2237]}},
"color":{"field":"l","type":"nominal","legend":null,"scale":{"domain":["Lineage I","Lineage II","Lineage III","Lineage III global","Lineage III Central Asia","Lineage IIIa","Lineage III OJCA","Lineage III MSM clade 1","Lineage III MSM clade 2","Lineage III MSM clade 3","Lineage III MSM clade 4","Lineage IV","Lineage V"],"range":["#f59a44","#60b946","#ef4a98","#c692c2","#7b50a3","#6d67b0","#5e3f9c","#2e6db6","#2fc4f0","#0098d0","#1b4a9c","#4d6531","#f0e725"]}}
}},
{"data":{"name":"legendItems"},"mark":{"type":"text","align":"left","baseline":"middle","font":"Liberation Sans","fontSize":27,"color":"#231f20"},"encoding":{
"x":{"field":"tx","type":"quantitative","axis":null,"scale":{"nice":false,"zero":false,"domain":[0,2529],"range":[0,2529]}},
"y":{"field":"ty","type":"quantitative","axis":null,"scale":{"nice":false,"zero":false,"domain":[0,2237],"range":[0,2237]}},
"text":{"field":"l"}}},
{"data":{"name":"plainTitle"},"mark":{"type":"text","align":"left","baseline":"alphabetic","font":"Liberation Sans","fontSize":27,"color":"#231f20"},"encoding":{
"x":{"field":"x","type":"quantitative","axis":null,"scale":{"nice":false,"zero":false,"domain":[0,2529],"range":[0,2529]}},
"y":{"field":"y","type":"quantitative","axis":null,"scale":{"nice":false,"zero":false,"domain":[0,2237],"range":[0,2237]}},
"text":{"field":"t"}}},
{"data":{"name":"italicTitle"},"mark":{"type":"text","align":"left","baseline":"alphabetic","font":"Liberation Sans","fontStyle":"italic","fontSize":27,"color":"#231f20"},"encoding":{
"x":{"field":"x","type":"quantitative","axis":null,"scale":{"nice":false,"zero":false,"domain":[0,2529],"range":[0,2529]}},
"y":{"field":"y","type":"quantitative","axis":null,"scale":{"nice":false,"zero":false,"domain":[0,2237],"range":[0,2237]}},
"text":{"field":"t"}}},
{"data":{"name":"redText"},"mark":{"type":"text","align":"left","baseline":"alphabetic","font":"Liberation Sans","fontSize":27,"color":"#ee2f2b"},"encoding":{
"x":{"field":"x","type":"quantitative","axis":null,"scale":{"nice":false,"zero":false,"domain":[0,2529],"range":[0,2529]}},
"y":{"field":"y","type":"quantitative","axis":null,"scale":{"nice":false,"zero":false,"domain":[0,2237],"range":[0,2237]}},
"text":{"field":"t"}}},
{"data":{"name":"italicLabels"},"mark":{"type":"text","angle":270,"align":"left","baseline":"middle","font":"Open Sans","fontStyle":"italic","fontSize":28,"color":"#111111"},"encoding":{
"x":{"field":"x","type":"quantitative","axis":null,"scale":{"nice":false,"zero":false,"domain":[0,2529],"range":[0,2529]}},
"y":{"field":"y","type":"quantitative","axis":null,"scale":{"nice":false,"zero":false,"domain":[0,2237],"range":[0,2237]}},
"text":{"field":"t"}}},
{"data":{"name":"romanLabels"},"mark":{"type":"text","angle":270,"align":"left","baseline":"middle","font":"Open Sans","fontSize":27,"color":"#111111"},"encoding":{
"x":{"field":"x","type":"quantitative","axis":null,"scale":{"nice":false,"zero":false,"domain":[0,2529],"range":[0,2529]}},
"y":{"field":"y","type":"quantitative","axis":null,"scale":{"nice":false,"zero":false,"domain":[0,2237],"range":[0,2237]}},
"text":{"field":"t"}}}
]}
